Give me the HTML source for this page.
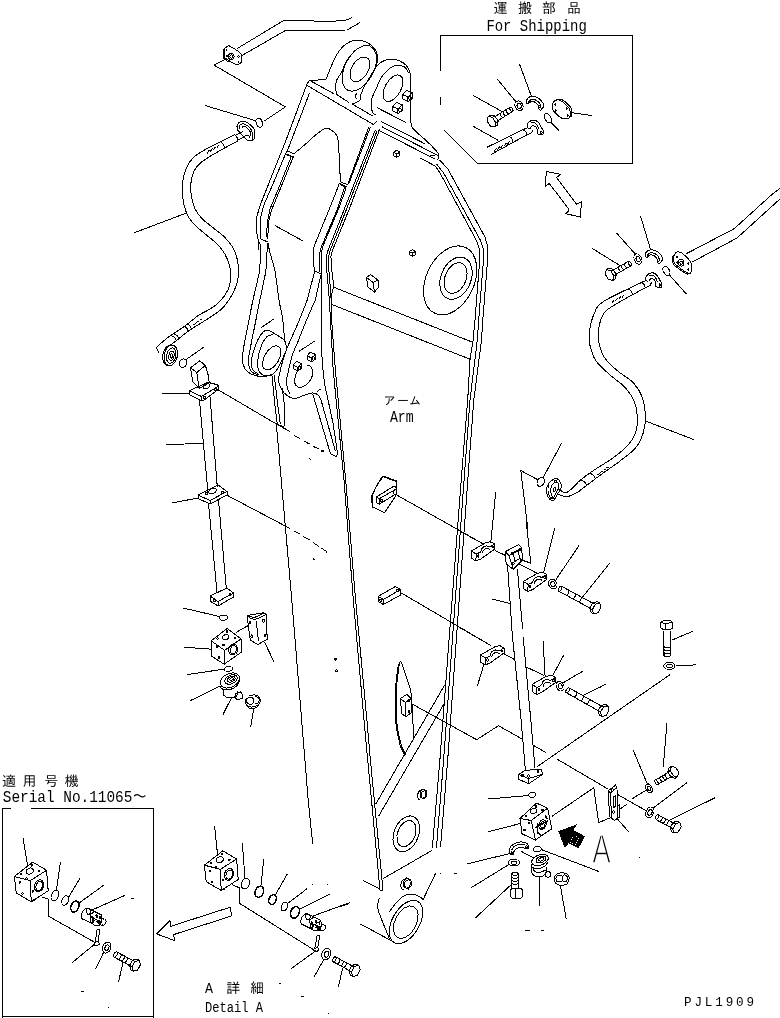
<!DOCTYPE html>
<html><head><meta charset="utf-8"><title>Arm</title>
<style>
html,body{margin:0;padding:0;background:#fff;}
svg{display:block;filter:grayscale(1)}
svg path,svg ellipse,svg rect,svg circle{fill:none;stroke:#000;stroke-width:1}
svg text{font-family:"Liberation Mono","IPAGothic","Noto Sans CJK JP",monospace;fill:#000;stroke:none}
</style></head><body>
<svg width="780" height="1018" viewBox="0 0 780 1018" shape-rendering="crispEdges">
<text x="493.5 518 542 567" y="13.2" font-size="14">運搬部品</text>
<text x="486.4" y="30.5" font-size="16.5" textLength="100.4" lengthAdjust="spacingAndGlyphs">For Shipping</text>
<path d="M440.5 70.5 L440.5 35.5 L632.5 35.5 L632.5 163.5 L477.4 163.5 L444 130"/>
<path d="M440.5 97 L440.5 105"/>
<text x="383.5 397 409" y="405.3" font-size="12">アーム</text>
<text x="389.9" y="422" font-size="16.5" textLength="23.7" lengthAdjust="spacingAndGlyphs">Arm</text>
<text x="2 22.5 44.3 64.8" y="785.8" font-size="14">適用号機</text>
<text x="2.8" y="802.3" font-size="16.5" textLength="144" lengthAdjust="spacingAndGlyphs">Serial No.11065～</text>
<path d="M11 808.5 L2.5 808.5 L2.5 1018"/>
<path d="M30.5 808.5 L153.5 808.5 L153.5 1018"/>
<text y="993.4"><tspan x="205.1" font-size="15.5" textLength="8" lengthAdjust="spacingAndGlyphs">A</tspan> <tspan x="226.3 250" font-size="14">詳細</tspan></text>
<text x="205.1" y="1011.7" font-size="15.5" textLength="58" lengthAdjust="spacingAndGlyphs">Detail A</text>
<text x="684" y="1006" font-size="12.6" textLength="70" lengthAdjust="spacing">PJL1909</text>
<text x="592.3" y="862.9" font-size="41.5" textLength="18.6" lengthAdjust="spacingAndGlyphs" style="font-family:'Liberation Sans',sans-serif;stroke:#fff;stroke-width:1.7">A</text>
<path d="M278.5 983.5 L281.3 983.5"/>
<path d="M301 996.5 L304 996.5"/>
<path d="M328.4 1013.5 L329.4 1013.5"/>
<path d="M439.7 160 L448 169.2 L484.9 236.9 L488 247.2 L487.3 263.6 L482.8 320 L481.5 340 L473.8 400 L468.5 470 L447.7 760 L440.5 847.2"/>
<path d="M436.7 164.1 L443.8 173.3 L480.8 241 L483.8 250.3 L483.2 263.6 L478.7 320 L477.3 340 L470 400 L464.8 470 L443.6 760 L436.4 848.2"/>
<path d="M420.3 158 L435.6 166.2 L440.8 174.4 L476.7 241 L479.7 250.3 L479.1 267.7 L475 320 L473.1 340 L470 360 L467.7 400 L462 470 L439.9 760 L432.3 848.2"/>
<path d="M309.5 80.3 C311.2 80.2 317.3 80.1 320 79.9 C322.7 79.7 324.8 79.2 325.8 79"/>
<path d="M325.8 79 C326 78.5 325.8 79.6 327.2 76.3 C328.6 73 332.3 63.5 334.4 59.2 C336.5 54.9 337.8 52.8 339.7 50.3 C341.6 47.8 343.6 45.6 346 44 C348.4 42.4 351.4 40.9 354.1 40.4 C356.8 39.9 359.5 40.1 362.2 40.8 C364.9 41.5 368.1 42.8 370.3 44.4 C372.6 46 374.5 48.3 375.7 50.3 C376.9 52.3 377.2 54.6 377.5 56.5 C377.8 58.4 377.6 60.1 377.3 61.9 C377 63.7 376 66.4 375.7 67.3"/>
<path d="M336.2 94.2 C336.2 92.1 335.2 85.6 336.2 81.7 C337.2 77.8 340.9 73.9 342.4 70.9 C343.9 67.9 343.8 66.2 345.1 63.7 C346.5 61.2 348.4 58.1 350.5 55.6 C352.6 53.1 355 50.2 357.7 48.5 C360.4 46.8 364.3 45.4 366.7 45.3 C369.1 45.1 370.6 46.3 372.1 47.6 C373.6 48.9 374.9 50.9 375.7 53 C376.5 55.1 377 57.7 377 60.1 C377 62.5 375.9 66.1 375.7 67.3"/>
<path d="M376.2 54 C376.2 55.3 376.7 58.9 376.4 61.6 C376.1 64.2 375.3 67.2 374.3 70 C373.2 72.8 371.7 75.7 370.1 78.2 C368.5 80.7 366.5 83.1 364.5 85 C362.5 86.9 360.3 88.5 358.2 89.5 C356.1 90.6 353.9 91.2 352 91.2 C350.2 91.2 348.3 90.7 346.9 89.7 C345.5 88.7 344.3 87.1 343.5 85.3 C342.7 83.4 342.2 81 342.2 78.6 C342.2 76.1 342.5 73.2 343.3 70.4 C344 67.6 345.1 64.6 346.5 62 C347.9 59.3 350.7 55.6 351.5 54.4"/>
<ellipse cx="359.9" cy="69.3" rx="8.2" ry="13.5" transform="rotate(31 359.9 69.3)"/>
<path d="M375.7 67.3 C374.9 68.8 372.4 73 370.6 76 C368.8 79 366.6 82 364.9 85.3 C363.2 88.6 361.3 93.5 360.4 96 C359.5 98.5 360.9 99.2 359.5 100.5 C358.1 101.8 353.5 103.5 352.3 104.1"/>
<path d="M356.4 93.3 C356.2 93.9 355.4 96.1 355.5 97 C355.6 97.9 356.6 98.4 356.8 98.7"/>
<path d="M336.2 94.2 L348.7 102.3"/>
<path d="M375.7 67.5 C376.6 66.7 378.8 63.7 380.8 62.4 C382.8 61.1 385.2 60.1 387.6 59.6 C390.1 59.1 392.9 59 395.5 59.6 C398.1 60.2 401.2 61.5 403.4 63 C405.6 64.5 407.3 66.4 408.5 68.6 C409.7 70.8 410.4 74.8 410.8 76"/>
<path d="M410.8 76 C410.8 83.3 410.3 111.2 410.8 120 C411.3 128.8 411.1 125.7 413.6 129.1 C416.1 132.5 422.4 137 426 140.4 C429.6 143.8 432.8 147 435 149.4 C437.2 151.8 438.6 153.2 439 155 C439.4 156.8 437.6 159.3 437.3 160.2"/>
<path d="M408.5 72.6 C407.8 71.7 406.3 68.2 404.5 67 C402.7 65.8 400.1 65.2 397.8 65.3 C395.6 65.4 393.3 66.1 391 67.5 C388.7 68.9 386.1 71.5 384.2 73.7 C382.3 75.9 381 78 379.7 80.5 C378.4 83 377.6 85.4 376.3 88.4 C375 91.4 372.7 95.6 371.8 98.6 C370.9 101.6 371 104.2 371.2 106.5 C371.4 108.8 372.1 111.3 372.9 112.7 C373.6 114.1 375.2 114.6 375.7 115"/>
<ellipse cx="393" cy="88.2" rx="7.9" ry="14.5" transform="rotate(29.5 393 88.2)"/>
<path d="M376.9 107.6 L405.7 122.3"/>
<path d="M402.5 94.5 L406.5 90.2 L412.5 93 L412.5 98.2 L408 101.8 L402.5 98.5 Z"/>
<path d="M402.5 94.5 L407.8 97 L412.5 93"/>
<path d="M407.8 97 L408 101.8"/>
<ellipse cx="410" cy="97.8" rx="1.2" ry="2"/>
<path d="M392.5 106.5 L396.5 102.2 L402.5 105 L402.5 110.2 L398 113.8 L392.5 110.5 Z"/>
<path d="M392.5 106.5 L397.8 109 L402.5 105"/>
<path d="M397.8 109 L398 113.8"/>
<ellipse cx="400" cy="109.8" rx="1.2" ry="2"/>
<path d="M309.5 80.3 L333.9 93.8"/>
<path d="M352.3 104.1 L372.9 116.1"/>
<path d="M306.4 85 L373.5 124.6"/>
<path d="M309.5 80.3 L306.4 85"/>
<path d="M380.8 121.2 L424.9 143.8"/>
<path d="M382 126.8 L433.9 153.4 L438.4 155.6"/>
<path d="M378.6 130.2 L435 159"/>
<path d="M429.4 156.2 L434.5 155"/>
<path d="M306.7 84.8 L286.1 140 L260.7 203.8 L256.4 217.8 L256.7 231.9 L258.5 241.6 L259 250"/>
<path d="M309.7 92.6 L287.4 150.8 L285.5 154"/>
<path d="M285.5 154 L273.3 183.2 L263.9 204.9 L260.1 220 L260.1 238.4 L260.7 238.9"/>
<path d="M291 157.3 L280.7 183.2 L269.9 209.2 L267.2 223.2 L266.6 237.3"/>
<path d="M293.1 157.3 L282.6 183.2 L271.5 210.3 L268.2 223.2 L267.9 239.5"/>
<path d="M285.5 154 L293.6 157.3" style="stroke-width:1.6"/>
<path d="M287.4 150.8 L293.6 154"/>
<path d="M260.7 238.9 L268.2 242.2"/>
<path d="M293.6 154 C295.5 152.4 301.3 147.8 305 144.6 C308.7 141.4 312.4 137.6 315.8 134.9 C319.2 132.2 322.8 129.1 325.5 128.4 C328.2 127.7 330 129.1 332 130.5 C334 131.9 336.2 133.2 337.4 137 C338.6 140.8 338.6 146.9 339 153.2 C339.4 159.5 339.8 170 340.1 174.9 C340.4 179.8 340.6 181.2 340.7 182.4"/>
<path d="M339.4 183.5 L346.6 187.3" style="stroke-width:1.6"/>
<path d="M340.7 182.2 L347.7 184.6"/>
<path d="M368.8 126.8 L347.7 184.6"/>
<path d="M370.3 127.3 L348.6 184.2"/>
<path d="M339 184.6 L328.9 210 L314.3 245.7 L313.2 251 L313.2 263 L314.9 270.5"/>
<path d="M344.5 187.3 L337 210 L321.4 246.8 L319.7 253.2 L319.4 271.6"/>
<path d="M346.3 187.6 L338.1 210 L322.4 247.3 L321.6 253.2 L321.6 272.7"/>
<path d="M314.6 271.1 L322.4 274.6"/>
<path d="M375.3 130 L344 210 L327.8 251 L326.2 256.5 L326.8 270.5 L328.9 294.3 L329.5 304 L330.5 320"/>
<path d="M377.2 130.5 L346.2 210 L329.5 252.2 L328.4 257.6 L328.9 270.5 L330.9 294.3 L331.6 320"/>
<path d="M379.6 129.5 L348.9 210 L332.2 251 L330.9 256.5 L331.6 268.4 L333.8 286.5 L331.5 294.5 L331.2 304"/>
<path d="M373.5 124.6 L377.4 120.6"/>
<path d="M333.8 287.3 L473 342.4"/>
<path d="M332.2 304.6 L470 359.2"/>
<ellipse cx="450.2" cy="280.4" rx="24" ry="36.3" transform="rotate(25 450.2 280.4)"/>
<ellipse cx="456" cy="278.2" rx="15" ry="22" transform="rotate(22 456 278.2)"/>
<ellipse cx="455.6" cy="278" rx="10.5" ry="16" transform="rotate(22 455.6 278)"/>
<path d="M393.5 152.2 L396.7 150.3 L399.9 152.2 L399.9 155.7 L396.7 157.3 L393.5 155.7 Z"/>
<path d="M393.5 152.2 L396.7 154 L399.9 152.2"/>
<path d="M396.7 154 L396.7 157.3"/>
<path d="M409.3 251.5 L412.3 249.7 L415.3 251.5 L415.3 254.8 L412.3 256.3 L409.3 254.8 Z"/>
<path d="M409.3 251.5 L412.3 253.2 L415.3 251.5"/>
<path d="M412.3 253.2 L412.3 256.3"/>
<path d="M366.5 277.5 L370.5 274.5 L378 280 L378 288 L374.5 292 L368 287 Z"/>
<path d="M366.5 277.5 L373 282.5 L378 280"/>
<path d="M373 282.5 L374.5 292"/>
<path d="M258.5 241.6 L260.8 245 L259.7 271.3"/>
<path d="M259.7 271.3 C258.6 276.1 254.7 292.3 253 300 C251.3 307.7 250.8 310.6 249.5 317.3 C248.2 324 246.1 334 244.9 340.4 C243.8 346.8 242.9 351.4 242.6 355.4 C242.3 359.4 242.4 361.9 243.2 364.6 C244 367.3 245.2 369.7 247.2 371.5 C249.2 373.3 252.2 374.8 255.3 375.6 C258.4 376.4 262.8 376.5 265.7 376.2 C268.6 375.9 271.5 374.2 272.6 373.8"/>
<path d="M267.5 243 L265.9 271.3"/>
<path d="M265.9 271.3 C264.9 276.1 261.7 291.4 259.9 300 C258.1 308.6 256.8 315.4 255.3 323.1 C253.8 330.8 251.8 340.1 250.7 346.2 C249.5 352.3 248.6 356.4 248.4 360 C248.2 363.6 248.7 366 249.5 368.1 C250.3 370.2 251.4 371.6 253 372.7 C254.6 373.8 257.8 374.6 258.8 375"/>
<path d="M268.2 242.7 C268.4 243.9 268.2 245.2 269.3 250 C270.4 254.8 273.4 263 275 271.3 C276.6 279.6 277.8 292.3 279 300 C280.2 307.7 281.5 311.5 282.4 317.3 C283.3 323.1 283.7 330.2 284.2 334.6 C284.7 339 285.1 342.3 285.3 343.8"/>
<path d="M268.6 330.2 C267.7 330.4 265.2 330 263.4 331.7 C261.6 333.4 259.4 336.4 257.6 340.4 C255.8 344.3 253.5 351.4 252.4 355.4 C251.3 359.4 251.2 362.1 251.3 364.6 C251.4 367.1 251.8 368.9 253 370.4 C254.2 371.9 257.3 373.2 258.2 373.8"/>
<path d="M268.6 330.2 C269.9 330.9 273.5 332.9 276.1 334.6 C278.7 336.3 282.4 338.1 284.2 340.4 C286 342.7 286.5 347.1 287 348.5"/>
<path d="M272.6 334.6 C271.6 335 268.5 335.4 266.8 336.9 C265.1 338.4 263.5 340.9 262.2 343.8 C260.9 346.7 259.6 350.7 258.8 354.2 C258 357.7 257.5 361.7 257.6 364.6 C257.7 367.5 258.3 369.8 259.3 371.5 C260.3 373.2 261.4 374.4 263.4 375 C265.4 375.6 269.2 376 271.5 375 C273.8 374 275.3 372.1 277.2 369.2 C279.1 366.3 281.4 361 283 357.7 C284.6 354.4 285.9 351 286.5 349.6"/>
<ellipse cx="271.7" cy="357.9" rx="7.3" ry="13.2" transform="rotate(30 271.7 357.9)"/>
<path d="M261.1 327.7 L273.8 319"/>
<path d="M272 376.2 L274.9 405 L277.4 424.6"/>
<path d="M274.2 375.5 L277.8 405 L280.3 424"/>
<path d="M282.2 388 L284.4 405 L284.2 425.6"/>
<path d="M277.4 424.6 L284.2 426.6"/>
<path d="M314.6 271.6 L307.2 300"/>
<path d="M307.2 300 C305.7 303.9 300.9 316.2 298 323.1 C295.1 330 291.8 337.1 289.9 341.5 C288 345.9 287.6 346.5 286.5 349.6 C285.4 352.7 284.2 356 283 360 C281.8 364 280.3 370.3 279.5 373.8 C278.7 377.3 278 378.1 278.4 380.8 C278.8 383.5 280.3 387.5 281.8 390 C283.3 392.5 285.5 394.4 287.6 395.8 C289.7 397.2 292 398.7 294.5 398.7 C297 398.7 299.5 396.8 302.6 395.8 C305.7 394.8 310.3 392.9 313 392.9 C315.7 392.9 317.4 394.4 318.8 395.8 C320.2 397.2 321 400.5 321.4 401.4"/>
<path d="M320.8 275.4 L315.3 300"/>
<path d="M315.3 300 C313.9 303.1 310.1 311.6 307.2 318.5 C304.3 325.4 300.5 335.4 298 341.5 C295.5 347.6 293.7 350.8 292.2 355.4 C290.7 360 289.8 365 288.8 369.2 C287.9 373.4 286.7 377.5 286.5 380.8 C286.3 384.1 287 386.7 287.6 388.8 C288.2 390.9 289.5 392.7 289.9 393.5"/>
<path d="M306.5 365 C307 365.1 308.6 364.8 309.5 365.5 C310.4 366.2 311.5 367.4 312 369 C312.5 370.6 312.9 372.9 312.5 375 C312.1 377.1 310.9 379.6 309.5 381.5 C308.1 383.4 305.7 385.4 303.8 386.3 C301.9 387.2 299.5 387.6 298 387 C296.5 386.4 295.3 384.8 294.8 383 C294.3 381.2 294.7 378.6 295.2 376.5 C295.7 374.4 297.5 371.5 298 370.5"/>
<path d="M293.1 365 L296.5 361.4 L301.7 363.7 L301.7 368.2 L297.8 371.2 L293.1 368.4 Z"/>
<path d="M293.1 365 L297.6 367.2 L301.7 363.7"/>
<path d="M297.6 367.2 L297.8 371.2"/>
<ellipse cx="299.5" cy="367.8" rx="1.1" ry="1.7"/>
<path d="M307 355.8 L310.4 352.2 L315.6 354.5 L315.6 359 L311.7 362 L307 359.2 Z"/>
<path d="M307 355.8 L311.5 358 L315.6 354.5"/>
<path d="M311.5 358 L311.7 362"/>
<ellipse cx="313.4" cy="358.6" rx="1.1" ry="1.7"/>
<path d="M299.2 351.3 L314.7 341"/>
<path d="M317 391.7 L320.5 389.1"/>
<path d="M312.7 393.8 L330 452.2 L331.1 454.3 L336 456.5 L338.1 453.8"/>
<path d="M321.4 401.4 L335.4 451.1"/>
<path d="M321.6 272.7 L321.6 320 L321.5 350 L323 370 L324.6 384 L333.2 424 L337.6 454.3"/>
<path d="M330.5 320 L333.2 370 L344 480 L353.3 600 L364 720 L367.7 760 L380 890"/>
<path d="M331.6 320 L335.4 370 L345.7 480 L355.6 600 L366.9 720 L370.4 760 L383 890"/>
<path d="M380 890.3 L383 890.3"/>
<path d="M276.4 424.6 L291.8 600 L308.2 800 L312.7 844"/>
<path d="M277.4 424.6 L290 431.5"/>
<path d="M294.3 435.4 L299.7 438.6"/>
<path d="M303.5 440.8 L309.5 444"/>
<path d="M312.7 446.2 L318.6 448.9"/>
<ellipse cx="322.4" cy="451" rx="1.2" ry="1"/>
<path d="M309.5 458.5 L311 460"/>
<path d="M285.6 526.2 L290 528.5"/>
<path d="M294 530.8 L300 534.2"/>
<path d="M303.5 536.5 L309.5 540"/>
<path d="M313 542.5 L319 546.5"/>
<path d="M321.5 548 L325 550.5"/>
<path d="M325.5 550.5 L326.8 552.3"/>
<path d="M313.2 558.5 L314.3 559.8"/>
<path d="M383.1 476.4 L396.5 481.2 L396.5 494.6 L384.6 512.7 L372.3 506.9 L371.5 495.8 L377.7 484.2 Z"/>
<path d="M381.9 477.3 L376.5 485.5 L372.5 495.5 L372.5 506.5"/>
<path d="M376.5 496.9 L393.8 486.2 L396.2 487.3 L396.2 493.8 L379.2 504.2 L376.5 502.7 Z"/>
<path d="M376.5 496.9 L379.2 498.8 L395.8 489.2"/>
<path d="M379.2 498.8 L379.2 504.2"/>
<ellipse cx="381.5" cy="500.4" rx="0.9" ry="1.1"/>
<path d="M393.5 490.5 L393.5 493.5" style="stroke-width:1.6"/>
<path d="M383.1 476.4 L396.5 481.2" style="stroke-width:1.6"/>
<path d="M378 596.5 L395.5 586.5 L400.5 589.5 L400.5 595 L383.5 604.5 L378 601.5 Z"/>
<path d="M378 596.5 L383.5 599.5 L400.5 589.5"/>
<path d="M383.5 599.5 L383.5 604.5"/>
<ellipse cx="380.7" cy="600.2" rx="0.9" ry="1.2"/>
<ellipse cx="397.5" cy="590.7" rx="0.9" ry="1.2"/>
<ellipse cx="335.5" cy="659" rx="1.2" ry="1"/>
<ellipse cx="336.5" cy="670.8" rx="1.2" ry="1"/>
<path d="M399.5 662.6 C398.9 667.5 396.6 682.2 396.2 692.3 C395.8 702.4 396.1 714.5 396.9 723 C397.7 731.5 399.4 738.3 400.8 743.6 C402.2 748.9 404.8 753 405.6 754.9"/>
<path d="M398.5 663.6 C397.9 668.4 395.6 682.4 395.2 692.3 C394.8 702.2 395.1 714.3 395.9 723 C396.7 731.7 398.5 739.2 400 744.6 C401.5 750 404 753.7 404.8 755.5"/>
<path d="M399.5 662.6 C399.7 662.4 400.1 661.3 400.5 661.3 C400.9 661.3 401.4 662.4 401.6 662.6"/>
<path d="M401.6 662.6 L410.8 690.3 L412.8 714.9 L413.4 739.5"/>
<path d="M400.5 698.5 L406.7 694.4 L411.4 698.5 L411.4 712.8 L406 716.5 L401.5 713.8 Z"/>
<path d="M400.5 698.5 L405.3 702.5 L411.4 698.5"/>
<path d="M405.3 702.5 L406 716.5"/>
<ellipse cx="409" cy="700.5" rx="0.9" ry="1.2"/>
<ellipse cx="409" cy="711.5" rx="0.9" ry="1.2"/>
<path d="M444.5 685.3 L375.9 803.8"/>
<path d="M444 703.9 L378.6 816.1"/>
<path d="M432.3 850.3 L383 878.6"/>
<ellipse cx="406.3" cy="833.8" rx="12.2" ry="18.6" transform="rotate(22 406.3 833.8)"/>
<ellipse cx="406.5" cy="833.6" rx="8.8" ry="13.6" transform="rotate(22 406.5 833.6)"/>
<path d="M426.9 795.8 L424.1 799.1 L420.7 797.3 L420.1 792.2 L422.9 788.9 L426.3 790.7 Z"/>
<ellipse cx="423.5" cy="794.5" rx="2.4" ry="3.8" transform="rotate(15 423.5 794.5)"/>
<path d="M420.1 800.2 C420 800.1 419.5 800 419.2 799.8 C418.9 799.6 418.7 799.3 418.5 799 C418.2 798.7 418.1 798.4 417.9 798 C417.8 797.6 417.7 797.2 417.6 796.8 C417.6 796.3 417.6 795.9 417.6 795.4 C417.6 794.9 417.7 794.5 417.8 794 C418 793.6 418.1 793.1 418.3 792.7 C418.5 792.3 418.8 791.9 419 791.5 C419.3 791.2 419.6 790.9 419.9 790.6 C420.2 790.4 420.5 790.1 420.9 790 C421.2 789.8 421.6 789.7 421.9 789.7 C422.2 789.7 422.7 789.8 422.9 789.8"/>
<path d="M411.6 885.4 L408.3 889 L404.1 887.1 L403.4 881.6 L406.7 878 L410.9 879.9 Z"/>
<ellipse cx="407.5" cy="884" rx="3" ry="4.2" transform="rotate(15 407.5 884)"/>
<path d="M404 890.1 C403.8 890 403.2 889.8 402.9 889.6 C402.6 889.4 402.2 889.1 402 888.8 C401.7 888.4 401.5 888 401.3 887.6 C401.1 887.2 401 886.7 400.9 886.3 C400.8 885.8 400.8 885.3 400.8 884.8 C400.8 884.3 400.9 883.8 401.1 883.3 C401.2 882.8 401.4 882.3 401.6 881.9 C401.8 881.5 402.1 881 402.4 880.7 C402.7 880.3 403.1 880 403.4 879.7 C403.8 879.4 404.2 879.2 404.6 879.1 C405 878.9 405.4 878.8 405.8 878.8 C406.2 878.8 406.8 878.9 407 878.9"/>
<ellipse cx="406" cy="922" rx="13.6" ry="23.7" transform="rotate(30 406 922)"/>
<ellipse cx="405.7" cy="922.2" rx="10.6" ry="17.5" transform="rotate(27.5 405.7 922.2)"/>
<path d="M388.7 912.5 C390.1 910.7 394.5 904.4 397.3 901.5 C400.1 898.6 402.5 896.4 405.4 895.2 C408.3 894 411.9 893.9 414.6 894.4 C417.3 894.9 420.1 897.1 421.5 898.1 C422.9 899.1 422.5 900 422.7 900.4"/>
<path d="M435.6 873.3 L422.7 900.4"/>
<path d="M379.4 898.1 C379.1 899.5 377.4 903.3 377.5 906.2 C377.6 909.1 377.9 909.8 380 915.4 C382.1 921 388.2 935.6 389.8 939.6"/>
<path d="M440 873.5 L441 873.5"/>
<path d="M453.8 873.5 L457 873.5"/>
<path d="M224.4 48.5 L228.5 45.4 L237.2 50.5 L241.8 54.9 L241.3 62.6 L237.2 65.1 L229 60.8 L224.4 57.4 Z"/>
<path d="M224.4 48.5 L223.4 49.5 L223.4 58.2 L228.2 61.8 L229 60.8"/>
<ellipse cx="231.3" cy="56.5" rx="2.8" ry="3.2"/>
<ellipse cx="231.3" cy="56.5" rx="1.4" ry="1.7"/>
<ellipse cx="226.5" cy="50" rx="0.6" ry="0.6"/>
<ellipse cx="238.5" cy="56.5" rx="0.6" ry="0.6"/>
<ellipse cx="238.5" cy="62" rx="0.6" ry="0.6"/>
<ellipse cx="226.8" cy="56" rx="0.6" ry="0.6"/>
<path d="M237.2 48.5 L284.1 20.3 L313.6 20.8"/>
<path d="M314.5 21.5 L344.4 20.8 L352 17.7"/>
<path d="M241.8 55.6 L285.4 30.5 L347 30 L359.7 22.8"/>
<path d="M224.4 60 L214.1 65.1 L285.4 106.9 L263.6 121.5"/>
<path d="M204.6 105.4 L255.9 120.8"/>
<ellipse cx="259.3" cy="122.8" rx="3" ry="4.6" transform="rotate(-20 259.3 122.8)"/>
<path d="M220.5 141.8 C218.1 143 210.6 146.4 206.2 149 C201.8 151.6 197.1 154.1 193.8 157.2 C190.6 160.3 188.6 163.3 186.7 167.4 C184.8 171.5 183.3 177 182.6 181.8 C181.9 186.6 182.1 191.4 182.6 196.2 C183.1 201 184.1 206.2 185.6 210.5 C187.1 214.8 188.7 218 191.8 221.8 C194.9 225.6 200 229.5 204.1 233.1 C208.2 236.7 213 239.9 216.4 243.3 C219.8 246.7 222.4 249.8 224.6 253.6 C226.8 257.4 228.7 261.8 229.7 265.9 C230.7 270 231.1 274.1 230.8 278.2 C230.5 282.3 229.8 286.4 227.7 290.5 C225.6 294.6 221.8 299.6 218.5 302.8 C215.2 306.1 211.5 307.9 208.2 310 C204.9 312.1 202.4 312.7 198.5 315.4 C194.6 318.1 189.2 322.9 184.6 326.2 C180 329.5 175.2 332.2 170.8 335.4 C166.5 338.6 160.8 343.2 158.5 345.4 C156.2 347.6 156.8 347.2 156.9 348.5 C157 349.8 158.8 352.2 159.2 353"/>
<path d="M224.6 148 C222.2 149.4 214.4 153.6 210.3 156.2 C206.2 158.8 202.8 160.8 200 163.3 C197.2 165.9 195.3 168.1 193.8 171.5 C192.3 174.9 191.2 179.7 190.8 183.8 C190.4 187.9 190.7 192.1 191.4 196.2 C192.1 200.3 193.1 204.8 194.9 208.5 C196.7 212.2 199 215.5 202.1 218.7 C205.2 221.9 209.6 224.8 213.3 227.9 C217.1 231 221.3 233.9 224.6 237.2 C227.8 240.4 230.7 243.7 232.8 247.4 C234.9 251.2 236.3 255.2 237.3 259.7 C238.3 264.1 238.8 269.7 238.6 274.1 C238.4 278.6 237.4 282.3 235.9 286.4 C234.4 290.5 232.3 294.8 229.7 298.7 C227.1 302.6 224.7 306.3 220.5 310 C216.3 313.7 210.1 317.2 204.6 320.8 C199.1 324.4 192.4 328.2 187.7 331.5 C183 334.8 179.8 338.1 176.2 340.8 C172.6 343.5 167.9 346.6 166.2 347.7"/>
<path d="M134.4 232.7 L186 213.2"/>
<path d="M220.5 141.8 C221 142.2 222.8 143.5 223.5 144.5 C224.2 145.5 224.4 147.4 224.6 148"/>
<path d="M220.5 141.8 L234.9 134.6"/>
<path d="M224.6 148 L238 140.8"/>
<path d="M234.9 134.6 C235.2 135.1 236.5 136.5 237 137.5 C237.5 138.5 237.8 140.2 238 140.8"/>
<path d="M234.9 135.6 L243 131.5"/>
<path d="M237.3 140.4 L245.1 136.3"/>
<path d="M207 153.5 L209.2 150.1"/>
<path d="M210.2 151.8 L212.4 148.4"/>
<path d="M213.4 150.1 L215.6 146.7"/>
<path d="M216.6 148.4 L218.8 145"/>
<path d="M237.4 124.6 C238 123.3 239.7 122 241 121.5 C242.3 121 243.4 120.8 245.1 121.5 C246.8 122.2 249.8 124.2 251.3 125.6 C252.9 127 253.9 127.9 254.4 130 C254.9 132.1 254.8 136.2 254.4 138 C254 139.8 252.8 140.1 251.8 140.5 C250.8 140.9 249.4 140.9 248.2 140.5 C247 140.1 245.9 139.1 244.5 137.8 C243.1 136.5 241.2 133.9 240 132.5 C238.8 131.1 237.8 130.8 237.4 129.5 C237 128.2 236.8 125.9 237.4 124.6 Z"/>
<path d="M239.3 128.5 C239.3 128 238.9 126.4 239.5 125.6 C240.1 124.8 241.8 123.8 243.1 123.8 C244.4 123.8 245.8 124.6 247.2 125.6 C248.6 126.6 250.5 128.3 251.3 129.7 C252.2 131.1 252.1 133.1 252.3 133.8"/>
<path d="M241.5 128.5 C241.8 128.1 242.7 126.5 243.5 126.3 C244.3 126.1 245.5 126.7 246.5 127.5 C247.5 128.3 248.8 129.8 249.5 131 C250.2 132.2 250.6 133.3 250.5 134.5 C250.4 135.7 249.2 137.4 249 138"/>
<path d="M244.5 136.5 C244.9 136.3 246.2 135.4 247 135.3 C247.8 135.2 249.1 136 249.5 136.2"/>
<path d="M250 131.5 L251 133.5" style="stroke-width:1.6"/>
<path d="M252.3 134 L252.3 139.5"/>
<path d="M184.6 326.2 C185 326.6 186.5 327.6 187 328.5 C187.5 329.4 187.6 331 187.7 331.5"/>
<path d="M188 324 C188.4 324.4 190 325.6 190.5 326.5 C191 327.4 191.1 329 191.2 329.5"/>
<path d="M170.8 335.4 C171.4 335.8 173.6 336.6 174.5 337.5 C175.4 338.4 175.9 340.2 176.2 340.8"/>
<path d="M173.5 333.5 C174.1 333.9 176.3 334.9 177.2 335.8 C178.1 336.7 178.5 338.5 178.8 339"/>
<path d="M193 324.5 L195.6 323.9"/>
<path d="M196.4 322.2 L199 321.6"/>
<path d="M199.8 319.9 L202.4 319.3"/>
<ellipse cx="170.8" cy="355.4" rx="6.6" ry="10.5" transform="rotate(12 170.8 355.4)"/>
<ellipse cx="171.2" cy="355.6" rx="4.6" ry="7.8" transform="rotate(12 171.2 355.6)"/>
<ellipse cx="171.4" cy="355.8" rx="2.6" ry="4.6" transform="rotate(12 171.4 355.8)"/>
<ellipse cx="171.4" cy="356" rx="1.2" ry="2.2" transform="rotate(12 171.4 356)"/>
<path d="M168.6 365.6 C168.3 365.5 167.3 365.5 166.7 365.2 C166.1 365 165.5 364.6 165 364.1 C164.6 363.6 164.1 362.9 163.8 362.2 C163.4 361.5 163.2 360.6 163 359.7 C162.8 358.8 162.8 357.8 162.8 356.8 C162.8 355.9 162.9 354.8 163.1 353.8 C163.4 352.8 163.7 351.8 164 350.9 C164.4 350 164.9 349.2 165.4 348.4 C165.9 347.7 166.5 347 167.1 346.5 C167.7 345.9 168.4 345.5 169 345.2 C169.7 345 170.4 344.8 171 344.8 C171.7 344.9 172.6 345.2 172.9 345.3"/>
<ellipse cx="183" cy="363.2" rx="3.6" ry="4.4" transform="rotate(30 183 363.2)"/>
<path d="M185.4 360 L203.8 347.2"/>
<path d="M190.5 367.7 L199.7 360.8 L205.4 365.4 L208.5 376.2 L209.2 383 L199.2 388.5 L193 382.3 Z"/>
<path d="M190.5 367.7 L196.8 372.6 L205.4 365.4"/>
<path d="M196.8 372.6 L199.2 388.5"/>
<path d="M189.2 390.8 L207.7 382.3 L216.9 384.6 L218.5 386.2 L218.5 389.2 L203 400.8 L201.5 400.8 L189.2 394.6 Z"/>
<path d="M189.2 390.8 L201.5 396.5 L218.5 386.2"/>
<path d="M201.5 396.5 L201.5 400.8"/>
<ellipse cx="204.5" cy="397.3" rx="0.8" ry="1.2"/>
<ellipse cx="215.5" cy="389.5" rx="0.8" ry="1.2"/>
<path d="M209.8 384.8 C209.8 385 209.9 385.6 209.8 386 C209.7 386.4 209.3 386.9 208.9 387.3 C208.5 387.7 208 388 207.4 388.3 C206.9 388.5 206.2 388.7 205.7 388.8 C205.1 388.8 204.5 388.8 204.1 388.6 C203.7 388.5 203.4 388.2 203.2 387.8 C203.1 387.5 203.1 387 203.2 386.6 C203.3 386.2 203.7 385.7 204.1 385.3 C204.5 384.9 205 384.6 205.6 384.3 C206.1 384.1 206.8 383.9 207.3 383.8 C207.9 383.8 208.5 383.8 208.9 384 C209.3 384.1 209.6 384.6 209.8 384.8"/>
<path d="M162.3 393.4 L189.2 393.4"/>
<path d="M218.5 390 L277.4 424.6"/>
<path d="M199.5 400.5 L208 493"/>
<path d="M210 396.5 L217.3 487"/>
<path d="M166 445 L203.5 443"/>
<path d="M198 495 L218 485 L227 491.5 L227 495 L210 504 L198 498.5 Z"/>
<path d="M198 495 L210 500.5 L227 491.5"/>
<path d="M210 500.5 L210 504"/>
<ellipse cx="206.5" cy="493.8" rx="1" ry="1.2"/>
<ellipse cx="222.5" cy="492.5" rx="0.8" ry="1.1"/>
<path d="M216.3 489.2 C216.3 489.5 216.5 490.2 216.3 490.6 C216.2 491.1 215.8 491.7 215.4 492.2 C214.9 492.6 214.2 493.1 213.6 493.4 C213 493.7 212.2 493.9 211.5 493.9 C210.9 494 210.2 493.9 209.8 493.7 C209.3 493.5 208.9 493.2 208.7 492.8 C208.5 492.4 208.5 491.8 208.7 491.4 C208.8 490.9 209.2 490.3 209.6 489.8 C210.1 489.4 210.8 488.9 211.4 488.6 C212 488.3 212.8 488.1 213.5 488.1 C214.1 488 214.8 488.1 215.2 488.3 C215.7 488.5 216.1 489.1 216.3 489.2"/>
<path d="M172 503 L198 498"/>
<path d="M226.5 495 L285.6 526.2"/>
<path d="M208.5 503.5 L217 592"/>
<path d="M218.5 500 L226.3 588.5"/>
<path d="M210 596 L227 588 L233.5 593 L233.5 597 L218 606 L210 601 Z"/>
<path d="M210 596 L218 601.5 L233.5 593"/>
<path d="M218 601.5 L218 606"/>
<ellipse cx="214.5" cy="600.5" rx="0.8" ry="1.1"/>
<ellipse cx="230" cy="594.5" rx="0.8" ry="1.1"/>
<path d="M183 608 L219.5 616.5"/>
<ellipse cx="223.5" cy="617.7" rx="4.4" ry="2.7" transform="rotate(-8 223.5 617.7)"/>
<path d="M211.2 640.8 L227.2 628.5 L241.1 638.9 L241.1 652.3 L224.2 664.2 L211.5 656.2 Z"/>
<path d="M211.2 640.8 L224.6 650.3 L241.1 638.9"/>
<path d="M224.6 650.3 L224.2 664.2"/>
<ellipse cx="225.6" cy="637.2" rx="3.4" ry="2.5" transform="rotate(-20 225.6 637.2)"/>
<ellipse cx="233" cy="649.4" rx="4.3" ry="5.6" transform="rotate(15 233 649.4)"/>
<ellipse cx="233.3" cy="649.6" rx="3" ry="4.2" transform="rotate(15 233.3 649.6)"/>
<ellipse cx="217.5" cy="638.5" rx="0.7" ry="0.7"/>
<ellipse cx="227" cy="631.5" rx="0.7" ry="0.7"/>
<ellipse cx="235" cy="638" rx="0.7" ry="0.7"/>
<ellipse cx="223.5" cy="645" rx="0.7" ry="0.7"/>
<ellipse cx="217" cy="646.5" rx="0.7" ry="0.7"/>
<ellipse cx="219" cy="657.5" rx="0.7" ry="0.7"/>
<path d="M183.8 647.2 L211.2 649.2"/>
<path d="M236.2 632.3 L248.5 625.4"/>
<path d="M247.7 615.4 L263.8 612.8 L266.2 614.3 L267.2 639.2 L257.7 644.6 L250.3 640 L247.7 620.8 Z"/>
<path d="M247.7 615.4 C248.2 615.9 249.4 617.9 251 618.5 C252.6 619.1 254.9 619.3 257 618.8 C259.1 618.3 262.3 616.2 263.8 615.5 C265.3 614.8 265.8 614.5 266.2 614.3"/>
<path d="M249.5 616.2 C250.4 616.4 252.6 617.8 255 617.2 C257.4 616.6 262.3 613.5 263.8 612.8"/>
<path d="M256.2 620.8 L258.5 640.8"/>
<ellipse cx="250" cy="622.3" rx="0.9" ry="1.4"/>
<ellipse cx="251.8" cy="636.2" rx="0.9" ry="1.4"/>
<ellipse cx="263.5" cy="620.8" rx="0.9" ry="1.4"/>
<ellipse cx="265" cy="635.4" rx="0.9" ry="1.4"/>
<path d="M264.6 642.3 L273.8 661.5"/>
<ellipse cx="228.5" cy="669" rx="4.3" ry="2.6" transform="rotate(-8 228.5 669)"/>
<path d="M187 674.6 L223.8 669.2"/>
<ellipse cx="229.8" cy="680.5" rx="10.2" ry="6.8" transform="rotate(-25 229.8 680.5)"/>
<ellipse cx="231" cy="679.5" rx="6.6" ry="4.2" transform="rotate(-25 231 679.5)"/>
<ellipse cx="231.3" cy="679.3" rx="4" ry="2.5" transform="rotate(-25 231.3 679.3)"/>
<ellipse cx="231.5" cy="679.2" rx="1.8" ry="1.2" transform="rotate(-25 231.5 679.2)"/>
<path d="M239.2 679.3 C239.2 679.6 239.3 680.6 239.2 681.2 C239.1 681.8 238.9 682.5 238.5 683.2 C238.2 683.8 237.8 684.5 237.3 685.1 C236.7 685.7 236.1 686.3 235.5 686.8 C234.8 687.3 234 687.8 233.3 688.3 C232.5 688.7 231.7 689 230.8 689.3 C230 689.6 229.1 689.8 228.3 689.9 C227.5 690 226.6 690 225.9 690 C225.1 689.9 224.3 689.8 223.7 689.6 C223 689.3 222.4 689 221.9 688.7 C221.4 688.3 221 687.8 220.6 687.3 C220.3 686.8 220.1 686 220 685.7"/>
<path d="M190 700.8 L220 686.2"/>
<path d="M223.2 690.5 C223.3 691.3 222.9 694.3 224 695.5 C225.1 696.7 228 697.6 230 697.7 C232 697.8 234.9 697.2 236.2 696.2 C237.5 695.2 237.4 692.3 237.7 691.5"/>
<path d="M235.5 693.5 L240.5 691.8 L243 695.3 L242.3 698.3 L237.3 699.8 L235 697.5 Z"/>
<path d="M223 714.6 L231.5 697.7"/>
<ellipse cx="252.8" cy="701" rx="7.6" ry="6" transform="rotate(-15 252.8 701)"/>
<ellipse cx="250.2" cy="700.8" rx="3.6" ry="3.4"/>
<path d="M254.6 696.8 C254.8 696.8 255.3 696.6 255.7 696.6 C256.1 696.6 256.4 696.6 256.8 696.8 C257.1 696.9 257.5 697 257.8 697.3 C258 697.5 258.3 697.7 258.5 698.1 C258.7 698.4 258.9 698.7 259 699.1 C259.1 699.4 259.2 699.8 259.2 700.2 C259.2 700.6 259.1 701 259 701.3 C258.9 701.7 258.7 702 258.5 702.3 C258.3 702.7 258 702.9 257.8 703.1 C257.5 703.4 257.1 703.5 256.8 703.6 C256.4 703.8 256.1 703.8 255.7 703.8 C255.3 703.8 254.8 703.6 254.6 703.6"/>
<path d="M246.5 704.5 C246.9 705.1 247.8 707.5 249 708.2 C250.2 708.9 252.3 709.1 254 708.6 C255.7 708.1 258.2 706 259 705.5"/>
<path d="M250.8 726.6 L253.8 708.5"/>
<path d="M2.5 1016.5 L153.5 1016.5"/>
<path d="M14.4 876.5 L32.8 862.1 L46.6 870.3 L48.2 890.8 L31.2 901.8 L16.2 892.9 Z"/>
<path d="M14.4 876.5 L30.4 880.6 L46.6 870.3"/>
<path d="M30.4 880.6 L31.2 901.8"/>
<ellipse cx="29.7" cy="871.1" rx="3.7" ry="2.8" transform="rotate(-25 29.7 871.1)"/>
<ellipse cx="39" cy="885.7" rx="4.5" ry="6" transform="rotate(20 39 885.7)"/>
<ellipse cx="39.3" cy="885.9" rx="3.2" ry="4.6" transform="rotate(20 39.3 885.9)"/>
<ellipse cx="20.9" cy="874" rx="0.7" ry="0.7"/>
<ellipse cx="31.9" cy="865.5" rx="0.7" ry="0.7"/>
<ellipse cx="39.4" cy="871" rx="0.7" ry="0.7"/>
<ellipse cx="26.4" cy="878.5" rx="0.7" ry="0.7"/>
<ellipse cx="19.9" cy="882.5" rx="0.7" ry="0.7"/>
<ellipse cx="22.4" cy="893.5" rx="0.7" ry="0.7"/>
<ellipse cx="32.9" cy="891.5" rx="0.7" ry="0.7"/>
<ellipse cx="33.9" cy="900" rx="0.7" ry="0.7"/>
<path d="M23 838.1 L27.7 866.2"/>
<ellipse cx="55" cy="895.5" rx="3.5" ry="5.7" transform="rotate(22 55 895.5)"/>
<path d="M60.5 862.1 L56.4 889.8"/>
<ellipse cx="65.2" cy="900.5" rx="3.1" ry="5" transform="rotate(22 65.2 900.5)"/>
<path d="M80.4 877.5 L68.7 897"/>
<ellipse cx="74.9" cy="906.6" rx="3.8" ry="5.7" style="stroke-width:1.6" transform="rotate(22 74.9 906.6)"/>
<path d="M103.6 885.3 L79 903.1"/>
<path d="M85.3 919.7 C85 919.7 84.2 919.8 83.8 919.7 C83.3 919.6 82.9 919.4 82.5 919.1 C82.2 918.7 81.9 918.3 81.7 917.8 C81.5 917.3 81.4 916.7 81.4 916 C81.3 915.4 81.4 914.7 81.6 914.1 C81.8 913.4 82 912.7 82.4 912.1 C82.7 911.5 83.1 910.8 83.6 910.3 C84 909.8 84.6 909.3 85.1 909 C85.6 908.7 86.2 908.4 86.7 908.3 C87.2 908.2 87.8 908.2 88.2 908.3 C88.7 908.4 89.1 908.6 89.5 908.9 C89.8 909.3 90.2 910 90.3 910.2"/>
<path d="M87.6 908 L95 911.7"/>
<path d="M83.4 919.2 L91 923"/>
<path d="M86.5 909.5 C87 909 88.8 909 89.5 909.4 C90.2 909.8 91.2 911.1 91 912 C90.8 912.9 89.2 914.4 88.5 914.5 C87.8 914.6 86.8 913.3 86.5 912.5 C86.2 911.7 86 910 86.5 909.5 Z"/>
<path d="M90.5 914.5 L94.5 911.5 L101.5 915 L102 920 L100.5 925 L94.5 925.3 L90.8 922.3 Z"/>
<path d="M92 916 L93.5 920.5 L92.5 923" style="stroke-width:2"/>
<path d="M96 914.5 L97.5 918" style="stroke-width:2"/>
<path d="M96.5 921 L99.5 922.5 L99 924.5" style="stroke-width:2.2"/>
<path d="M93.5 918.5 L101 921.5"/>
<path d="M99.5 916 L100.5 919" style="stroke-width:1.6"/>
<path d="M101.5 918 L104.5 919.5"/>
<path d="M100.5 925 L103.5 925.5"/>
<path d="M104.7 919.6 C104.8 919.6 105.1 919.6 105.3 919.7 C105.4 919.7 105.6 919.9 105.7 920 C105.8 920.2 105.9 920.4 106 920.6 C106.1 920.9 106.1 921.1 106.1 921.4 C106.1 921.7 106 922 106 922.3 C105.9 922.6 105.8 923 105.6 923.3 C105.5 923.6 105.3 923.9 105.1 924.1 C105 924.4 104.7 924.6 104.5 924.8 C104.3 925 104.1 925.1 103.9 925.2 C103.6 925.3 103.4 925.4 103.2 925.4 C103 925.4 102.8 925.4 102.6 925.3 C102.5 925.2 102.3 924.9 102.2 924.9"/>
<path d="M124.7 895.5 L92.3 909.9"/>
<path d="M131.3 898.5 L134.4 898.5"/>
<path d="M42 897 L48.2 899 L48.2 916 L95.4 942.7"/>
<path d="M97.1 929.5 L95.4 942"/>
<path d="M99.7 929.5 L98.2 942"/>
<path d="M97.1 929.5 L99.7 929.5"/>
<ellipse cx="96.7" cy="943.8" rx="2.6" ry="1.8" transform="rotate(-20 96.7 943.8)"/>
<path d="M72.2 962.6 L95.4 943.5"/>
<ellipse cx="106.7" cy="947.6" rx="4" ry="5.7" transform="rotate(22 106.7 947.6)"/>
<ellipse cx="106.9" cy="947.7" rx="1.9" ry="2.9" transform="rotate(22 106.9 947.7)"/>
<path d="M95.4 969.4 L103.6 952.4"/>
<path d="M114.1 957.1 L130.6 966.1"/>
<path d="M116.9 951.9 L133.4 960.9"/>
<ellipse cx="115.5" cy="954.5" rx="1.5" ry="3" transform="rotate(28.6 115.5 954.5)"/>
<path d="M120.6 953.8 C120.6 953.9 120.8 954 120.9 954.1 C120.9 954.2 121 954.4 121 954.6 C121.1 954.7 121.1 954.9 121.1 955.1 C121.1 955.3 121 955.6 121 955.8 C120.9 956 120.9 956.3 120.8 956.5 C120.7 956.7 120.6 957 120.4 957.2 C120.3 957.4 120.2 957.7 120 957.9 C119.9 958.1 119.7 958.3 119.6 958.4 C119.4 958.6 119.2 958.7 119 958.9 C118.9 959 118.7 959.1 118.5 959.1 C118.4 959.2 118.2 959.2 118.1 959.2 C117.9 959.2 117.8 959.1 117.7 959.1"/>
<path d="M123.9 955.6 C123.9 955.7 124.1 955.8 124.2 955.9 C124.2 956 124.3 956.2 124.3 956.4 C124.4 956.5 124.4 956.7 124.4 956.9 C124.4 957.1 124.3 957.4 124.3 957.6 C124.2 957.8 124.2 958.1 124.1 958.3 C124 958.5 123.9 958.8 123.7 959 C123.6 959.2 123.5 959.5 123.3 959.7 C123.2 959.9 123 960.1 122.9 960.2 C122.7 960.4 122.5 960.5 122.3 960.7 C122.2 960.8 122 960.9 121.8 960.9 C121.7 961 121.5 961 121.4 961 C121.2 961 121.1 960.9 121 960.9"/>
<path d="M126.8 957.3 C126.9 957.3 127.1 957.4 127.1 957.5 C127.2 957.7 127.3 957.8 127.3 958 C127.3 958.1 127.4 958.3 127.3 958.5 C127.3 958.8 127.3 959 127.3 959.2 C127.2 959.4 127.1 959.7 127 959.9 C127 960.1 126.8 960.4 126.7 960.6 C126.6 960.8 126.4 961.1 126.3 961.3 C126.2 961.5 126 961.7 125.8 961.8 C125.7 962 125.5 962.2 125.3 962.3 C125.1 962.4 125 962.5 124.8 962.5 C124.7 962.6 124.5 962.6 124.4 962.6 C124.2 962.6 124 962.5 124 962.5"/>
<path d="M137.6 970.1 L133.3 971.2 L131.9 967 L134.9 961.5 L139.2 960.4 L140.5 964.6 Z"/>
<path d="M130.8 969.9 L129.5 965.6 L132.4 960.2 L136.7 959"/>
<path d="M130.8 969.9 L133.3 971.2"/>
<path d="M129.5 965.6 L131.9 967"/>
<path d="M132.4 960.2 L134.9 961.5"/>
<path d="M136.7 959 L139.2 960.4"/>
<path d="M118.6 981.7 L123 962.6"/>
<path d="M81 991.5 L83.7 991.5"/>
<path d="M108 1007.5 L109 1007.5"/>
<path d="M204.4 865.2 L222.8 850.8 L236.6 859 L238.2 879.5 L221.2 890.5 L206.2 881.6 Z"/>
<path d="M204.4 865.2 L220.4 869.3 L236.6 859"/>
<path d="M220.4 869.3 L221.2 890.5"/>
<ellipse cx="219.7" cy="859.8" rx="3.7" ry="2.8" transform="rotate(-25 219.7 859.8)"/>
<ellipse cx="229" cy="874.4" rx="4.5" ry="6" transform="rotate(20 229 874.4)"/>
<ellipse cx="229.3" cy="874.6" rx="3.2" ry="4.6" transform="rotate(20 229.3 874.6)"/>
<ellipse cx="210.9" cy="862.7" rx="0.7" ry="0.7"/>
<ellipse cx="221.9" cy="854.2" rx="0.7" ry="0.7"/>
<ellipse cx="229.4" cy="859.7" rx="0.7" ry="0.7"/>
<ellipse cx="216.4" cy="867.2" rx="0.7" ry="0.7"/>
<ellipse cx="209.9" cy="871.2" rx="0.7" ry="0.7"/>
<ellipse cx="212.4" cy="882.2" rx="0.7" ry="0.7"/>
<ellipse cx="222.9" cy="880.2" rx="0.7" ry="0.7"/>
<ellipse cx="223.9" cy="888.7" rx="0.7" ry="0.7"/>
<path d="M214.6 826.2 L217.7 856"/>
<ellipse cx="245.4" cy="883.6" rx="3.9" ry="5.5" transform="rotate(22 245.4 883.6)"/>
<path d="M242.3 843 L245 878.5"/>
<ellipse cx="259.3" cy="891.8" rx="4.2" ry="5.7" style="stroke-width:1.5" transform="rotate(22 259.3 891.8)"/>
<path d="M263.8 859 L260.8 886.7"/>
<ellipse cx="272.5" cy="899.6" rx="3.5" ry="5.1" style="stroke-width:1.5" transform="rotate(22 272.5 899.6)"/>
<path d="M287.4 873.8 L275.1 895.5"/>
<ellipse cx="284.4" cy="906.6" rx="2.9" ry="4.5" transform="rotate(22 284.4 906.6)"/>
<path d="M306.9 888.8 L287.4 903.7"/>
<ellipse cx="295" cy="912.4" rx="4.2" ry="6.1" style="stroke-width:1.6" transform="rotate(22 295 912.4)"/>
<path d="M329.5 894.3 L299.7 909.3"/>
<path d="M304.7 925.2 C304.4 925.2 303.6 925.3 303.2 925.2 C302.7 925.1 302.3 924.9 301.9 924.6 C301.6 924.2 301.3 923.8 301.1 923.3 C300.9 922.8 300.8 922.2 300.8 921.5 C300.7 920.9 300.8 920.2 301 919.6 C301.2 918.9 301.4 918.2 301.8 917.6 C302.1 917 302.5 916.3 303 915.8 C303.4 915.3 304 914.8 304.5 914.5 C305 914.2 305.6 913.9 306.1 913.8 C306.6 913.7 307.2 913.7 307.6 913.8 C308.1 913.9 308.5 914.1 308.9 914.4 C309.2 914.8 309.6 915.5 309.7 915.7"/>
<path d="M307 913.5 L314.4 917.2"/>
<path d="M302.8 924.7 L310.4 928.5"/>
<path d="M305.9 915 C306.4 914.5 308.1 914.5 308.9 914.9 C309.6 915.3 310.6 916.6 310.4 917.5 C310.2 918.4 308.6 919.9 307.9 920 C307.1 920.1 306.2 918.8 305.9 918 C305.6 917.2 305.4 915.5 305.9 915 Z"/>
<path d="M309.9 920 L313.9 917 L320.9 920.5 L321.4 925.5 L319.9 930.5 L313.9 930.8 L310.2 927.8 Z"/>
<path d="M311.4 921.5 L312.9 926 L311.9 928.5" style="stroke-width:2"/>
<path d="M315.4 920 L316.9 923.5" style="stroke-width:2"/>
<path d="M315.9 926.5 L318.9 928 L318.4 930" style="stroke-width:2.2"/>
<path d="M312.9 924 L320.4 927"/>
<path d="M318.9 921.5 L319.9 924.5" style="stroke-width:1.6"/>
<path d="M320.9 923.5 L323.9 925"/>
<path d="M319.9 930.5 L322.9 931"/>
<path d="M324.1 925.1 C324.2 925.1 324.5 925.1 324.7 925.2 C324.8 925.2 325 925.4 325.1 925.5 C325.2 925.7 325.3 925.9 325.4 926.1 C325.5 926.4 325.5 926.6 325.5 926.9 C325.5 927.2 325.4 927.5 325.4 927.8 C325.3 928.1 325.2 928.5 325 928.8 C324.9 929.1 324.7 929.4 324.5 929.6 C324.4 929.9 324.1 930.1 323.9 930.3 C323.7 930.5 323.5 930.6 323.3 930.7 C323 930.8 322.8 930.9 322.6 930.9 C322.4 930.9 322.2 930.9 322 930.8 C321.9 930.7 321.7 930.4 321.6 930.4"/>
<path d="M350 902.5 L313.1 916"/>
<path d="M232 884.7 L239.2 887.7 L239.2 903.1 L315.5 950.9"/>
<path d="M317.1 935.5 L314.9 948"/>
<path d="M319.7 935.5 L317.7 948"/>
<path d="M317.1 935.5 L319.7 935.5"/>
<ellipse cx="316.2" cy="949.8" rx="2.6" ry="1.8" transform="rotate(-20 316.2 949.8)"/>
<path d="M290.9 968.8 L315.1 951.3"/>
<ellipse cx="326.2" cy="954.1" rx="4.3" ry="6" transform="rotate(22 326.2 954.1)"/>
<ellipse cx="326.5" cy="954.2" rx="2.2" ry="3" transform="rotate(22 326.5 954.2)"/>
<path d="M314.1 977 L324.4 958.5"/>
<path d="M333 961.7 L350.2 971"/>
<path d="M335.6 956.9 L352.8 966.2"/>
<ellipse cx="334.3" cy="959.3" rx="1.4" ry="2.8" transform="rotate(28.4 334.3 959.3)"/>
<path d="M339.4 958.9 C339.4 959 339.6 959.1 339.7 959.2 C339.7 959.3 339.8 959.4 339.8 959.6 C339.9 959.7 339.9 959.9 339.9 960.1 C339.9 960.3 339.8 960.5 339.8 960.7 C339.7 960.9 339.7 961.1 339.6 961.4 C339.5 961.6 339.4 961.8 339.3 962 C339.2 962.2 339 962.4 338.9 962.6 C338.8 962.8 338.6 963 338.5 963.1 C338.3 963.3 338.2 963.4 338 963.5 C337.9 963.6 337.7 963.7 337.6 963.8 C337.4 963.8 337.3 963.9 337.1 963.9 C337 963.9 336.8 963.8 336.8 963.8"/>
<path d="M342.8 960.8 C342.9 960.8 343 960.9 343.1 961 C343.2 961.1 343.2 961.3 343.3 961.4 C343.3 961.6 343.3 961.8 343.3 962 C343.3 962.1 343.3 962.4 343.2 962.6 C343.2 962.8 343.1 963 343 963.2 C342.9 963.4 342.8 963.7 342.7 963.9 C342.6 964.1 342.5 964.3 342.4 964.5 C342.2 964.7 342.1 964.8 341.9 965 C341.8 965.1 341.6 965.3 341.5 965.4 C341.3 965.5 341.1 965.6 341 965.6 C340.8 965.7 340.7 965.7 340.6 965.7 C340.4 965.7 340.3 965.6 340.2 965.6"/>
<path d="M345.9 962.5 C346 962.5 346.1 962.6 346.2 962.7 C346.3 962.8 346.3 963 346.4 963.1 C346.4 963.3 346.4 963.4 346.4 963.6 C346.4 963.8 346.4 964 346.3 964.2 C346.3 964.4 346.2 964.7 346.1 964.9 C346 965.1 345.9 965.3 345.8 965.5 C345.7 965.7 345.6 966 345.4 966.1 C345.3 966.3 345.2 966.5 345 966.7 C344.9 966.8 344.7 966.9 344.6 967.1 C344.4 967.2 344.2 967.2 344.1 967.3 C343.9 967.4 343.8 967.4 343.7 967.4 C343.5 967.4 343.4 967.3 343.3 967.3"/>
<path d="M357.2 975.3 L352.8 976.6 L351.4 972.2 L354.4 966.5 L358.9 965.3 L360.3 969.7 Z"/>
<path d="M350.3 975.2 L348.9 970.8 L352 965.2 L356.4 964"/>
<path d="M350.3 975.2 L352.8 976.6"/>
<path d="M348.9 970.8 L351.4 972.2"/>
<path d="M352 965.2 L354.4 966.5"/>
<path d="M356.4 964 L358.9 965.3"/>
<path d="M338.3 987 L342.8 967.7"/>
<path d="M312 884.5 L313 884.5"/>
<path d="M326.5 884.5 L327.5 884.5"/>
<path d="M156.7 934 L170 920.7 L170.7 926.3 L230 907.3 L232 915.8 L173.3 934.7 L175 940.7 Z"/>
<path d="M510 107.2 L494.2 117.1"/>
<path d="M512.6 111.4 L496.8 121.3"/>
<ellipse cx="511.3" cy="109.3" rx="1.2" ry="2.5" transform="rotate(147.9 511.3 109.3)"/>
<path d="M509.2 113.6 C509.1 113.6 508.9 113.7 508.8 113.7 C508.7 113.7 508.6 113.7 508.4 113.6 C508.3 113.6 508.2 113.5 508 113.4 C507.9 113.4 507.7 113.2 507.6 113.1 C507.4 113 507.3 112.8 507.1 112.7 C507 112.5 506.9 112.3 506.8 112.1 C506.7 112 506.5 111.8 506.5 111.6 C506.4 111.4 506.3 111.2 506.2 111 C506.2 110.8 506.2 110.6 506.1 110.4 C506.1 110.3 506.1 110.1 506.1 110 C506.2 109.8 506.2 109.7 506.3 109.6 C506.3 109.5 506.5 109.4 506.5 109.4"/>
<path d="M506 115.6 C505.9 115.6 505.8 115.7 505.7 115.7 C505.6 115.7 505.4 115.7 505.3 115.6 C505.1 115.6 505 115.5 504.9 115.4 C504.7 115.3 504.6 115.2 504.4 115.1 C504.3 115 504.1 114.8 504 114.6 C503.9 114.5 503.7 114.3 503.6 114.1 C503.5 113.9 503.4 113.7 503.3 113.6 C503.2 113.4 503.1 113.2 503.1 113 C503 112.8 503 112.6 503 112.4 C503 112.3 503 112.1 503 112 C503 111.8 503 111.7 503.1 111.6 C503.2 111.5 503.3 111.4 503.3 111.3"/>
<path d="M503.1 117.4 C503.1 117.4 502.9 117.5 502.8 117.5 C502.7 117.5 502.6 117.4 502.4 117.4 C502.3 117.4 502.2 117.3 502 117.2 C501.9 117.1 501.7 117 501.6 116.9 C501.4 116.7 501.3 116.6 501.1 116.4 C501 116.3 500.9 116.1 500.8 115.9 C500.6 115.7 500.5 115.5 500.5 115.3 C500.4 115.1 500.3 114.9 500.2 114.8 C500.2 114.6 500.1 114.4 500.1 114.2 C500.1 114 500.1 113.9 500.1 113.7 C500.2 113.6 500.2 113.5 500.3 113.4 C500.3 113.3 500.5 113.2 500.5 113.1"/>
<path d="M487 120.8 L488.1 116.5 L492.5 117.4 L495.8 122.7 L494.7 127 L490.3 126.1 Z"/>
<path d="M490.5 115 L494.9 115.9 L498.2 121.2 L497.1 125.5"/>
<path d="M490.5 115 L488.1 116.5"/>
<path d="M494.9 115.9 L492.5 117.4"/>
<path d="M498.2 121.2 L495.8 122.7"/>
<path d="M497.1 125.5 L494.7 127"/>
<path d="M473.3 95.5 L502 111.5"/>
<ellipse cx="519" cy="105.8" rx="3.9" ry="5" transform="rotate(-25 519 105.8)"/>
<ellipse cx="519.2" cy="105.9" rx="2" ry="2.6" transform="rotate(-25 519.2 105.9)"/>
<path d="M497.3 79.1 L516.4 102.3"/>
<path d="M526.5 100.2 C526.9 99.7 527.8 97.8 529 97.2 C530.2 96.6 532.3 96.2 534 96.5 C535.7 96.8 537.5 97.6 539 98.7 C540.5 99.8 542.2 101.9 543 103.2 C543.8 104.5 543.4 106.1 543.5 106.7"/>
<path d="M526.5 100.2 C526.5 100.6 526 102 526.3 102.7 C526.5 103.4 527.7 104 528 104.2"/>
<path d="M528 104.2 C528.5 103.8 529.8 102 531 101.7 C532.2 101.4 533.8 101.6 535 102.2 C536.2 102.8 537.4 104.1 538 105.2 C538.6 106.3 538.4 108.1 538.5 108.7"/>
<path d="M538.5 108.7 C538.8 109 539.7 110.5 540.5 110.2 C541.3 109.9 543 107.3 543.5 106.7"/>
<path d="M528.5 101.2 C529.1 100.9 530.8 99.6 532 99.4 C533.2 99.2 534.8 99.6 536 100.2 C537.2 100.8 538.7 102.2 539.5 103.2 C540.3 104.2 540.6 105.7 540.8 106.2"/>
<ellipse cx="539.5" cy="106.7" rx="0.8" ry="1.2"/>
<ellipse cx="529.2" cy="101.8" rx="0.7" ry="1"/>
<path d="M519.5 64 L531.4 96.2"/>
<path d="M552.8 103.5 C553.3 102.2 554 101 555.3 100.5 C556.5 100 558.2 99.3 560.3 100.3 C562.4 101.3 566.2 104.7 567.8 106.5 C569.4 108.3 569.7 109.2 570.1 111 C570.4 112.8 570.4 115.7 569.9 117 C569.4 118.3 568.1 118.6 566.8 118.8 C565.4 119 563.9 119.4 561.8 118.3 C559.7 117.2 555.8 113.7 554.3 112 C552.8 110.3 552.8 109.4 552.5 108 C552.2 106.6 552.3 104.8 552.8 103.5 Z"/>
<path d="M555.3 100.5 C555.6 100.4 556.1 99.8 557.3 99.7 C558.5 99.6 560.2 98.8 562.3 99.9 C564.4 101 568.2 104.3 569.8 106.1 C571.4 107.9 571.4 108.8 571.7 110.5 C572 112.2 571.8 114.9 571.5 116 C571.2 117.1 570.2 116.8 569.9 117"/>
<ellipse cx="555.3" cy="104.5" rx="0.7" ry="0.7"/>
<ellipse cx="566.8" cy="108.5" rx="0.7" ry="0.7"/>
<ellipse cx="567.8" cy="115.5" rx="0.7" ry="0.7"/>
<ellipse cx="555.8" cy="110.5" rx="0.7" ry="0.7"/>
<path d="M570.8 112.6 L592.3 115.6"/>
<ellipse cx="547.8" cy="118.1" rx="3" ry="5" transform="rotate(-30 547.8 118.1)"/>
<path d="M550.3 121.8 L558.9 130.4"/>
<path d="M527 124.7 C527.5 124.1 528.7 122 530 121.2 C531.3 120.5 533.5 119.9 535 120.2 C536.5 120.5 537.9 122 539 123.2 C540.1 124.5 540.8 126.5 541.5 127.7 C542.2 128.9 543.2 130 543.5 130.5"/>
<path d="M527 124.7 C527.1 125.2 527 127 527.5 127.7 C528 128.4 529.6 128.5 530 128.7"/>
<path d="M530 128.7 C530.4 128.2 531.5 126 532.5 125.7 C533.5 125.5 535.2 126.4 536 127.2 C536.8 128 537.3 129.7 537.5 130.7 C537.7 131.7 537.1 132.8 537 133.2"/>
<path d="M537 133.2 C537.4 133.4 538.5 134.5 539.5 134.7 C540.5 134.9 542.3 134.9 543 134.2 C543.7 133.5 543.4 131.1 543.5 130.5"/>
<path d="M530.5 123.2 C531.2 123.1 533.3 122.3 534.5 122.7 C535.7 123.1 536.8 124.6 537.5 125.7 C538.2 126.8 538.8 128.6 539 129.2"/>
<ellipse cx="541.3" cy="132.2" rx="0.8" ry="1.2"/>
<path d="M527.5 127.7 L523 129.7"/>
<path d="M531.5 132.7 L526.8 134.9"/>
<path d="M531.5 132.7 L533 129.7"/>
<path d="M523 129.7 L486.7 147.4"/>
<path d="M526.8 134.9 L490.8 154.6"/>
<path d="M523 129.7 C523.5 130 525.2 130.9 525.8 131.8 C526.4 132.7 526.6 134.4 526.8 134.9"/>
<path d="M509.2 136.3 C509.7 136.7 511.4 137.7 512 138.6 C512.6 139.5 512.8 141.4 513 142"/>
<path d="M494 151.5 L496.4 148.3"/>
<path d="M497.3 149.8 L499.7 146.6"/>
<path d="M500.6 148 L503 144.8"/>
<path d="M503.9 146.2 L506.3 143.1"/>
<path d="M507.2 144.5 L509.6 141.3"/>
<path d="M473.3 126.3 L498 140.3"/>
<path d="M546.3 171.5 L560.5 174.4 L556.5 177.5 L576.7 204.4 L581.6 201.5 L580.3 217 L565.7 213.7 L568.6 210.7 L568.6 208.9 L549.3 183.5 L545.4 186.5 Z"/>
<path d="M686.3 253.7 L734.2 228.7 L771.9 194.5 L780 188.3"/>
<path d="M691.7 262.3 L736.9 238.1 L780 199"/>
<path d="M674.2 255 C674.8 253.4 676 252.3 677.2 252 C678.5 251.7 679.6 251.6 681.7 253 C683.8 254.4 688.1 258.6 689.7 260.5 C691.3 262.4 691.2 262.7 691.5 264.5 C691.8 266.3 691.9 270.1 691.3 271.5 C690.7 272.9 690.2 274.1 687.7 273 C685.2 271.9 678.5 266.9 676.2 265 C673.9 263.1 674.2 263.2 673.9 261.5 C673.6 259.8 673.7 256.6 674.2 255 Z"/>
<path d="M674.2 255 C674 255.2 673.2 255.2 672.9 256.5 C672.7 257.8 672.3 260.9 672.7 262.5 C673.1 264.1 672.9 264.1 675.2 266 C677.5 267.9 684.6 272.8 686.7 274 C688.8 275.2 687.5 273.2 687.7 273"/>
<ellipse cx="681.2" cy="262.7" rx="2.8" ry="3.4"/>
<ellipse cx="681.2" cy="262.7" rx="1.3" ry="1.7"/>
<ellipse cx="676.7" cy="257" rx="0.7" ry="0.7"/>
<ellipse cx="688.2" cy="263.5" rx="0.7" ry="0.7"/>
<ellipse cx="688.2" cy="269.5" rx="0.7" ry="0.7"/>
<ellipse cx="677.2" cy="262.5" rx="0.7" ry="0.7"/>
<path d="M628.6 261.3 L612.5 270.5"/>
<path d="M631 265.7 L614.9 274.9"/>
<ellipse cx="629.8" cy="263.5" rx="1.2" ry="2.5" transform="rotate(150.3 629.8 263.5)"/>
<path d="M627.5 267.7 C627.4 267.7 627.3 267.8 627.2 267.8 C627.1 267.8 626.9 267.8 626.8 267.7 C626.7 267.7 626.5 267.6 626.4 267.5 C626.2 267.4 626.1 267.3 625.9 267.1 C625.8 267 625.7 266.9 625.5 266.7 C625.4 266.5 625.3 266.3 625.2 266.1 C625.1 266 625 265.8 624.9 265.6 C624.8 265.4 624.7 265.2 624.7 265 C624.7 264.8 624.6 264.6 624.6 264.4 C624.6 264.3 624.6 264.1 624.6 264 C624.7 263.8 624.7 263.7 624.8 263.6 C624.8 263.5 625 263.4 625 263.4"/>
<path d="M624.3 269.5 C624.2 269.5 624.1 269.6 624 269.6 C623.8 269.6 623.7 269.6 623.6 269.6 C623.4 269.5 623.3 269.4 623.1 269.3 C623 269.2 622.9 269.1 622.7 269 C622.6 268.9 622.4 268.7 622.3 268.5 C622.2 268.4 622.1 268.2 622 268 C621.8 267.8 621.7 267.6 621.7 267.4 C621.6 267.2 621.5 267 621.5 266.8 C621.4 266.6 621.4 266.4 621.4 266.3 C621.4 266.1 621.4 265.9 621.4 265.8 C621.4 265.7 621.5 265.5 621.6 265.4 C621.6 265.3 621.8 265.2 621.8 265.2"/>
<path d="M621.4 271.2 C621.3 271.2 621.2 271.3 621.1 271.3 C620.9 271.3 620.8 271.3 620.7 271.2 C620.5 271.2 620.4 271.1 620.2 271 C620.1 270.9 620 270.8 619.8 270.6 C619.7 270.5 619.5 270.3 619.4 270.2 C619.3 270 619.2 269.8 619.1 269.6 C618.9 269.5 618.8 269.3 618.8 269.1 C618.7 268.9 618.6 268.7 618.6 268.5 C618.5 268.3 618.5 268.1 618.5 267.9 C618.5 267.8 618.5 267.6 618.5 267.5 C618.6 267.3 618.6 267.2 618.7 267.1 C618.7 267 618.9 266.9 618.9 266.8"/>
<path d="M605.2 274 L606.4 269.7 L610.8 270.8 L613.9 276.2 L612.6 280.5 L608.3 279.4 Z"/>
<path d="M608.9 268.3 L613.2 269.4 L616.3 274.8 L615 279.1"/>
<path d="M608.9 268.3 L606.4 269.7"/>
<path d="M613.2 269.4 L610.8 270.8"/>
<path d="M616.3 274.8 L613.9 276.2"/>
<path d="M615 279.1 L612.6 280.5"/>
<path d="M592 248.3 L619.8 265.5"/>
<ellipse cx="637.9" cy="259.1" rx="3.6" ry="5.4" transform="rotate(-25 637.9 259.1)"/>
<ellipse cx="638.1" cy="259.2" rx="1.9" ry="2.8" transform="rotate(-25 638.1 259.2)"/>
<path d="M616.3 232.7 L636 254.8"/>
<path d="M645.4 253.6 C645.8 253.1 646.6 251.2 647.9 250.6 C649.1 250 651.2 249.7 652.9 249.9 C654.6 250.2 656.4 251 657.9 252.1 C659.4 253.2 661.1 255.3 661.9 256.6 C662.6 257.9 662.3 259.5 662.4 260.1"/>
<path d="M645.4 253.6 C645.4 254 644.9 255.4 645.2 256.1 C645.4 256.8 646.6 257.4 646.9 257.6"/>
<path d="M646.9 257.6 C647.4 257.2 648.7 255.4 649.9 255.1 C651.1 254.8 652.7 255 653.9 255.6 C655.1 256.2 656.3 257.5 656.9 258.6 C657.5 259.7 657.3 261.5 657.4 262.1"/>
<path d="M657.4 262.1 C657.7 262.4 658.6 263.9 659.4 263.6 C660.2 263.3 661.9 260.7 662.4 260.1"/>
<path d="M647.4 254.6 C648 254.3 649.6 253 650.9 252.8 C652.1 252.6 653.6 253 654.9 253.6 C656.1 254.2 657.6 255.6 658.4 256.6 C659.2 257.6 659.5 259.1 659.7 259.6"/>
<ellipse cx="658.4" cy="260.1" rx="0.8" ry="1.2"/>
<ellipse cx="648.1" cy="255.2" rx="0.7" ry="1"/>
<path d="M640.5 216 L650.8 250.2"/>
<ellipse cx="666.4" cy="270.9" rx="3" ry="4.8" transform="rotate(-30 666.4 270.9)"/>
<path d="M669.6 275.2 L686.3 294"/>
<path d="M645.5 277.5 C646 276.9 647.2 274.8 648.5 274 C649.8 273.2 652 272.7 653.5 273 C655 273.3 656.4 274.8 657.5 276 C658.6 277.2 659.2 279.3 660 280.5 C660.8 281.7 661.7 282.8 662 283.3"/>
<path d="M645.5 277.5 C645.6 278 645.5 279.8 646 280.5 C646.5 281.2 648.1 281.3 648.5 281.5"/>
<path d="M648.5 281.5 C648.9 281 650 278.8 651 278.5 C652 278.2 653.7 279.2 654.5 280 C655.3 280.8 655.8 282.5 656 283.5 C656.2 284.5 655.6 285.6 655.5 286"/>
<path d="M655.5 286 C655.9 286.2 657 287.3 658 287.5 C659 287.7 660.8 287.7 661.5 287 C662.2 286.3 661.9 283.9 662 283.3"/>
<path d="M649 276 C649.7 275.9 651.8 275.1 653 275.5 C654.2 275.9 655.2 277.4 656 278.5 C656.8 279.6 657.2 281.4 657.5 282"/>
<ellipse cx="659.8" cy="285" rx="0.8" ry="1.2"/>
<path d="M646 280.5 L641.5 282.5"/>
<path d="M650 285.5 L645.3 287.7"/>
<path d="M650 285.5 L651.5 282.5"/>
<path d="M641.5 282.5 C641.9 282.8 643.4 283.6 644 284.5 C644.6 285.4 645.1 287.2 645.3 287.7"/>
<path d="M641.5 282.5 C635.2 285.6 611.6 296.2 603.7 301.4 C595.8 306.6 596.6 308.4 594.2 313.5 C591.8 318.6 590.1 327 589.4 332.3 C588.7 337.6 588.9 340.6 590 345.4 C591.1 350.1 592.6 355.9 595.9 360.8 C599.2 365.7 605.1 370.4 610 374.9 C614.9 379.4 621.3 383.2 625.4 387.7 C629.5 392.2 632.4 396.9 634.4 401.8 C636.4 406.7 637.2 412.1 637.4 417.2 C637.6 422.3 637.2 427.9 635.6 432.6 C634 437.3 631.7 441.1 627.9 445.4 C624.1 449.7 618.1 454.1 612.6 458.2 C607.1 462.2 600 466.1 594.6 469.7 C589.2 473.3 584.4 476.8 580.5 480 C576.6 483.2 574.1 486.9 571.5 489 C568.9 491.1 567.2 492.8 565.1 492.8 C563 492.8 559.8 489.6 558.7 489"/>
<path d="M645.3 287.7 C639.7 290.9 618.9 301.9 611.7 306.7 C604.5 311.4 604.5 311.9 602.3 316.2 C600.1 320.5 598.8 327.6 598.3 332.3 C597.8 337 598.1 339.8 599.2 344.1 C600.3 348.4 601.8 353.7 604.9 358.2 C608 362.7 613 366.9 617.7 371 C622.4 375.1 629.1 378.3 633.1 382.6 C637.1 386.9 640 391.4 642 396.7 C644 402 645.2 408.6 645.4 414.6 C645.6 420.6 644.9 427.1 643.3 432.6 C641.7 438.2 639.4 443.2 635.6 447.9 C631.8 452.6 625.8 456.5 620.3 460.8 C614.8 465.1 607.9 469.6 602.3 473.6 C596.7 477.7 591.2 481.9 586.9 485.1 C582.6 488.3 580.1 490.9 576.7 492.8 C573.3 494.7 569.6 496.5 566.4 496.7 C563.2 496.9 558.9 494.5 557.4 494.1"/>
<path d="M628.5 289 C629 289.4 630.8 290.5 631.5 291.5 C632.2 292.5 632.3 294.2 632.5 294.8"/>
<path d="M612 303 L614.4 299.8"/>
<path d="M615.3 301.2 L617.7 298"/>
<path d="M618.6 299.4 L621 296.2"/>
<path d="M621.9 297.6 L624.3 294.4"/>
<path d="M645.4 421 L694.1 439.7"/>
<path d="M580.5 480 C581.2 480.3 583.4 481.1 584.5 482 C585.6 482.9 586.5 484.6 586.9 485.1"/>
<path d="M590 473 C590.6 473.4 592.6 474.5 593.5 475.5 C594.4 476.5 595.2 478.4 595.5 479"/>
<path d="M597 474.5 L599.6 473.7"/>
<path d="M600.2 472.3 L602.8 471.5"/>
<path d="M603.4 470.1 L606 469.3"/>
<path d="M606.6 467.9 L609.2 467.1"/>
<path d="M550.3 481.6 C551.7 480.3 554.2 478.6 555.8 478.5 C557.4 478.4 558.8 479.7 559.7 481.1 C560.6 482.5 561.7 484.9 561.3 487.1 C560.9 489.3 558.7 492 557.4 494.2 C556.1 496.4 554.8 499.7 553.5 500.5 C552.2 501.3 550.7 500.2 549.5 498.9 C548.3 497.6 546.8 494.7 546.4 492.6 C546 490.5 546.6 488.1 547.2 486.3 C547.9 484.5 548.9 482.9 550.3 481.6 Z"/>
<path d="M552.7 484 C553.8 483.2 556.4 481.9 557.4 482.4 C558.4 482.9 559.3 485.3 559 487.1 C558.7 488.9 556.7 491.7 555.8 493.4 C554.9 495.1 554.3 497.3 553.5 497.3 C552.7 497.3 551.5 495.1 551.1 493.4 C550.7 491.7 550.8 488.7 551.1 487.1 C551.4 485.5 551.7 484.8 552.7 484 Z"/>
<path d="M549 483.5 C548.8 484.2 548.1 486.2 548 488 C547.9 489.8 548 492.2 548.5 494 C549 495.8 550.6 498.2 551 499"/>
<ellipse cx="555.5" cy="481.5" rx="0.8" ry="1"/>
<ellipse cx="552.5" cy="498" rx="0.8" ry="1"/>
<ellipse cx="554.5" cy="489.5" rx="1.2" ry="2.6" transform="rotate(15 554.5 489.5)"/>
<ellipse cx="540.8" cy="481.8" rx="3.4" ry="4.8" transform="rotate(25 540.8 481.8)"/>
<path d="M561.8 442.8 L543.3 477.4"/>
<path d="M538.2 480 L520.8 470.5 L528 530"/>
<path d="M471.3 551 L485.3 543 L490.3 541.5 L494.8 544 L494.8 549 L480.8 559 L475.8 561 L471.3 558 Z"/>
<path d="M471.3 551 L476.3 554 L480.8 552"/>
<path d="M476.3 554 L475.8 561"/>
<path d="M480.8 552 C481.1 551.3 481.4 549 482.3 548 C483.2 547 485.1 546.2 486.3 546 C487.6 545.8 489.2 546.8 489.8 547"/>
<path d="M489.8 547 L494.8 544"/>
<path d="M482.3 553 C482.6 552.5 483 550.8 483.8 550 C484.6 549.2 486.2 548.5 487.3 548.5 C488.4 548.5 489.8 549.8 490.3 550"/>
<ellipse cx="478.3" cy="556" rx="0.8" ry="1.1"/>
<ellipse cx="492.8" cy="547" rx="0.8" ry="1.1"/>
<path d="M495.7 491.7 L490.8 542.6"/>
<path d="M460 531.3 L482.6 543.6"/>
<path d="M505.1 551.8 L518.5 544.6 L521.5 547.7 L522.6 560 L513.3 569.2 L506.2 564.1 Z"/>
<path d="M505.1 551.8 L509 555.5 L521.5 547.7"/>
<path d="M509 555.5 L513.3 569.2"/>
<path d="M513.5 553.5 L518.5 550.5 L519.5 558.5 L514.8 561.5 Z"/>
<ellipse cx="512" cy="553.5" rx="0.8" ry="1"/>
<ellipse cx="519.8" cy="549.5" rx="0.8" ry="1"/>
<ellipse cx="513.3" cy="563.5" rx="0.8" ry="1"/>
<ellipse cx="520.8" cy="559.8" rx="0.8" ry="1"/>
<path d="M494.9 550.4 L505.1 555.3"/>
<path d="M521.5 560 L530.8 563.1 L526 520"/>
<path d="M519.5 564.1 L537 573.3"/>
<path d="M507.6 566.2 L512.3 634.9 L521.1 720 L525.5 771.3"/>
<path d="M517.4 569.2 L522.6 628.7"/>
<path d="M523.2 637.3 L530.8 720 L535 768.2"/>
<path d="M491.8 599 L510.3 603.7"/>
<path d="M523.2 581.5 L537.2 573.5 L542.2 572 L546.7 574.5 L546.7 579.5 L532.7 589.5 L527.7 591.5 L523.2 588.5 Z"/>
<path d="M523.2 581.5 L528.2 584.5 L532.7 582.5"/>
<path d="M528.2 584.5 L527.7 591.5"/>
<path d="M532.7 582.5 C533 581.8 533.3 579.5 534.2 578.5 C535.1 577.5 537 576.7 538.2 576.5 C539.5 576.3 541.1 577.3 541.7 577.5"/>
<path d="M541.7 577.5 L546.7 574.5"/>
<path d="M534.2 583.5 C534.5 583 534.9 581.2 535.7 580.5 C536.5 579.8 538.1 579 539.2 579 C540.3 579 541.7 580.2 542.2 580.5"/>
<ellipse cx="530.2" cy="586.5" rx="0.8" ry="1.1"/>
<ellipse cx="544.7" cy="577.5" rx="0.8" ry="1.1"/>
<path d="M554.8 528.2 L543.7 572.3"/>
<ellipse cx="552.7" cy="584" rx="4" ry="5.1" transform="rotate(-25 552.7 584)"/>
<ellipse cx="552.9" cy="584.1" rx="2.1" ry="2.7" transform="rotate(-25 552.9 584.1)"/>
<path d="M579 545.6 L556 579.5"/>
<path d="M558.8 591.2 L591.1 608.7"/>
<path d="M561.4 586.2 L593.7 603.7"/>
<ellipse cx="560.1" cy="588.7" rx="1.4" ry="2.8" transform="rotate(28.4 560.1 588.7)"/>
<path d="M568.5 590.1 C568.6 590.1 568.7 590.2 568.8 590.3 C568.9 590.5 568.9 590.6 569 590.8 C569 590.9 569 591.1 569 591.3 C569 591.5 569 591.7 568.9 591.9 C568.9 592.1 568.8 592.3 568.7 592.6 C568.7 592.8 568.6 593 568.4 593.2 C568.3 593.4 568.2 593.6 568 593.8 C567.9 594 567.8 594.2 567.6 594.4 C567.5 594.5 567.3 594.7 567.1 594.8 C567 594.9 566.8 595 566.7 595 C566.5 595.1 566.4 595.1 566.2 595.1 C566.1 595.1 565.9 595 565.9 595"/>
<path d="M575 593.6 C575 593.6 575.2 593.7 575.3 593.8 C575.3 594 575.4 594.1 575.4 594.3 C575.5 594.4 575.5 594.6 575.5 594.8 C575.5 595 575.4 595.2 575.4 595.4 C575.4 595.6 575.3 595.8 575.2 596.1 C575.1 596.3 575 596.5 574.9 596.7 C574.8 596.9 574.6 597.1 574.5 597.3 C574.4 597.5 574.2 597.7 574.1 597.9 C573.9 598 573.7 598.2 573.6 598.3 C573.4 598.4 573.3 598.5 573.1 598.5 C573 598.6 572.8 598.6 572.7 598.6 C572.6 598.6 572.4 598.5 572.3 598.5"/>
<path d="M580.8 596.7 C580.9 596.8 581 596.9 581.1 597 C581.2 597.1 581.2 597.2 581.3 597.4 C581.3 597.6 581.3 597.7 581.3 597.9 C581.3 598.1 581.3 598.3 581.2 598.5 C581.2 598.8 581.1 599 581 599.2 C580.9 599.4 580.8 599.7 580.7 599.9 C580.6 600.1 580.5 600.3 580.3 600.5 C580.2 600.7 580 600.9 579.9 601 C579.7 601.2 579.6 601.3 579.4 601.4 C579.3 601.5 579.1 601.6 578.9 601.7 C578.8 601.7 578.6 601.8 578.5 601.8 C578.4 601.8 578.2 601.7 578.1 601.7"/>
<path d="M598 612.8 L593.7 613.9 L592.3 609.7 L595.3 604.2 L599.6 603 L600.9 607.3 Z"/>
<path d="M591.2 612.6 L589.9 608.3 L592.8 602.9 L597.1 601.7"/>
<path d="M591.2 612.6 L593.7 613.9"/>
<path d="M589.9 608.3 L592.3 609.7"/>
<path d="M592.8 602.9 L595.3 604.2"/>
<path d="M597.1 601.7 L599.6 603"/>
<path d="M609.7 563.1 L582.7 596.9"/>
<path d="M480.5 655 L494.5 647 L499.5 645.5 L504 648 L504 653 L490 663 L485 665 L480.5 662 Z"/>
<path d="M480.5 655 L485.5 658 L490 656"/>
<path d="M485.5 658 L485 665"/>
<path d="M490 656 C490.2 655.3 490.6 653 491.5 652 C492.4 651 494.2 650.2 495.5 650 C496.8 649.8 498.4 650.8 499 651"/>
<path d="M499 651 L504 648"/>
<path d="M491.5 657 C491.8 656.5 492.2 654.8 493 654 C493.8 653.2 495.4 652.5 496.5 652.5 C497.6 652.5 499 653.8 499.5 654"/>
<ellipse cx="487.5" cy="660" rx="0.8" ry="1.1"/>
<ellipse cx="502" cy="651" rx="0.8" ry="1.1"/>
<path d="M460 627.7 L490.8 645.5"/>
<path d="M477.4 685.7 L484.2 663.6"/>
<path d="M503.1 653.3 L514.4 659.5"/>
<path d="M525.6 666.7 L544.1 675.5"/>
<path d="M532 684.5 L546 676.5 L551 675 L555.5 677.5 L555.5 682.5 L541.5 692.5 L536.5 694.5 L532 691.5 Z"/>
<path d="M532 684.5 L537 687.5 L541.5 685.5"/>
<path d="M537 687.5 L536.5 694.5"/>
<path d="M541.5 685.5 C541.8 684.8 542.1 682.5 543 681.5 C543.9 680.5 545.8 679.7 547 679.5 C548.2 679.3 549.9 680.3 550.5 680.5"/>
<path d="M550.5 680.5 L555.5 677.5"/>
<path d="M543 686.5 C543.2 686 543.7 684.2 544.5 683.5 C545.3 682.8 546.9 682 548 682 C549.1 682 550.5 683.2 551 683.5"/>
<ellipse cx="539" cy="689.5" rx="0.8" ry="1.1"/>
<ellipse cx="553.5" cy="680.5" rx="0.8" ry="1.1"/>
<path d="M543.1 640.6 L545.1 676.9"/>
<path d="M563.6 655.4 L552.3 676.3"/>
<ellipse cx="560.1" cy="686.2" rx="3.7" ry="5" transform="rotate(-25 560.1 686.2)"/>
<ellipse cx="560.3" cy="686.3" rx="1.9" ry="2.6" transform="rotate(-25 560.3 686.3)"/>
<path d="M583.5 670.8 L562.6 683.1"/>
<path d="M566.3 692.7 L599.2 711.2"/>
<path d="M569.1 687.9 L602 706.4"/>
<ellipse cx="567.7" cy="690.3" rx="1.4" ry="2.8" transform="rotate(29.3 567.7 690.3)"/>
<path d="M576.3 691.9 C576.4 692 576.5 692.1 576.6 692.2 C576.7 692.3 576.7 692.4 576.7 692.6 C576.8 692.8 576.8 692.9 576.8 693.1 C576.8 693.3 576.7 693.5 576.7 693.7 C576.6 694 576.6 694.2 576.5 694.4 C576.4 694.6 576.3 694.8 576.2 695.1 C576 695.3 575.9 695.5 575.8 695.7 C575.6 695.9 575.5 696 575.3 696.2 C575.2 696.3 575 696.5 574.8 696.6 C574.7 696.7 574.5 696.8 574.4 696.8 C574.2 696.9 574.1 696.9 573.9 696.9 C573.8 696.9 573.6 696.8 573.6 696.8"/>
<path d="M582.9 695.6 C582.9 695.7 583.1 695.8 583.2 695.9 C583.2 696 583.3 696.1 583.3 696.3 C583.3 696.5 583.4 696.6 583.4 696.8 C583.3 697 583.3 697.2 583.3 697.4 C583.2 697.7 583.1 697.9 583.1 698.1 C583 698.3 582.9 698.5 582.7 698.8 C582.6 699 582.5 699.2 582.3 699.4 C582.2 699.6 582 699.7 581.9 699.9 C581.7 700 581.6 700.2 581.4 700.3 C581.3 700.4 581.1 700.5 580.9 700.5 C580.8 700.6 580.6 700.6 580.5 700.6 C580.4 700.6 580.2 700.5 580.1 700.5"/>
<path d="M588.8 699 C588.9 699 589 699.1 589.1 699.2 C589.2 699.3 589.2 699.5 589.2 699.6 C589.3 699.8 589.3 700 589.3 700.2 C589.3 700.4 589.2 700.6 589.2 700.8 C589.1 701 589.1 701.2 589 701.4 C588.9 701.6 588.8 701.9 588.7 702.1 C588.5 702.3 588.4 702.5 588.3 702.7 C588.1 702.9 588 703.1 587.8 703.2 C587.7 703.4 587.5 703.5 587.3 703.6 C587.2 703.7 587 703.8 586.9 703.9 C586.7 703.9 586.6 703.9 586.4 703.9 C586.3 703.9 586.1 703.9 586.1 703.8"/>
<path d="M606.1 715.4 L601.8 716.6 L600.5 712.3 L603.5 706.9 L607.8 705.8 L609.1 710 Z"/>
<path d="M599.3 715.2 L598 710.9 L601.1 705.5 L605.4 704.4"/>
<path d="M599.3 715.2 L601.8 716.6"/>
<path d="M598 710.9 L600.5 712.3"/>
<path d="M601.1 705.5 L603.5 706.9"/>
<path d="M605.4 704.4 L607.8 705.8"/>
<path d="M606.1 684.1 L583.1 695.4"/>
<path d="M670.2 674.5 L536.4 767.2"/>
<path d="M660.9 622.4 L664.4 620.4 L670 620.4 L672.8 622.4 L672.8 627.9 L669.3 629.9 L663.7 629.9 L660.9 627.9 Z"/>
<path d="M665.5 622.9 L665.5 629.9"/>
<path d="M660.9 622.4 C661.7 622.6 663.5 623.4 665.5 623.4 C667.4 623.4 671.6 622.6 672.8 622.4"/>
<path d="M663 629.9 L663.6 655"/>
<path d="M670 629.9 L670.6 655"/>
<ellipse cx="667.1" cy="655" rx="3.5" ry="1.5"/>
<path d="M670.6 652 C670.6 652.1 670.6 652.3 670.5 652.4 C670.4 652.5 670.3 652.6 670.1 652.8 C670 652.9 669.8 653 669.6 653.1 C669.4 653.2 669.1 653.2 668.9 653.3 C668.6 653.4 668.3 653.4 668 653.4 C667.7 653.5 667.4 653.5 667.1 653.5 C666.8 653.5 666.5 653.5 666.2 653.4 C665.9 653.4 665.6 653.4 665.4 653.3 C665.1 653.2 664.8 653.2 664.6 653.1 C664.4 653 664.2 652.9 664.1 652.8 C663.9 652.6 663.8 652.5 663.7 652.4 C663.6 652.3 663.6 652.1 663.6 652"/>
<path d="M670.6 649 C670.6 649.1 670.6 649.3 670.5 649.4 C670.4 649.5 670.3 649.6 670.1 649.8 C670 649.9 669.8 650 669.6 650.1 C669.4 650.2 669.1 650.2 668.9 650.3 C668.6 650.4 668.3 650.4 668 650.4 C667.7 650.5 667.4 650.5 667.1 650.5 C666.8 650.5 666.5 650.5 666.2 650.4 C665.9 650.4 665.6 650.4 665.4 650.3 C665.1 650.2 664.8 650.2 664.6 650.1 C664.4 650 664.2 649.9 664.1 649.8 C663.9 649.6 663.8 649.5 663.7 649.4 C663.6 649.3 663.6 649.1 663.6 649"/>
<path d="M670.6 646 C670.6 646.1 670.6 646.3 670.5 646.4 C670.4 646.5 670.3 646.6 670.1 646.8 C670 646.9 669.8 647 669.6 647.1 C669.4 647.2 669.1 647.2 668.9 647.3 C668.6 647.4 668.3 647.4 668 647.4 C667.7 647.5 667.4 647.5 667.1 647.5 C666.8 647.5 666.5 647.5 666.2 647.4 C665.9 647.4 665.6 647.4 665.4 647.3 C665.1 647.2 664.8 647.2 664.6 647.1 C664.4 647 664.2 646.9 664.1 646.8 C663.9 646.6 663.8 646.5 663.7 646.4 C663.6 646.3 663.6 646.1 663.6 646"/>
<path d="M693.2 631.1 L671.5 640.3"/>
<ellipse cx="669.4" cy="665.9" rx="5.6" ry="3.6"/>
<ellipse cx="669.6" cy="666" rx="2.9" ry="1.9"/>
<path d="M696.5 664.8 L676 665.9"/>
<path d="M411.4 703.6 L476.7 739.7 L498.5 725.7 L522 739"/>
<path d="M533.5 745.5 L545.6 752.4"/>
<path d="M518.6 774.4 L525.5 770.3 L541.5 769.2 L542.6 774.4 L528.8 783.6 L519 779.5 Z"/>
<path d="M518.6 774.4 L528.5 778.5 L542.6 774.4"/>
<path d="M528.5 778.5 L528.8 783.6"/>
<ellipse cx="522.5" cy="775.5" rx="0.9" ry="1.1"/>
<ellipse cx="538" cy="771.5" rx="0.9" ry="1.1"/>
<ellipse cx="528.5" cy="776" rx="0.9" ry="1.1"/>
<path d="M556.9 759 L607.5 788.7"/>
<path d="M617.5 794.5 L646 810.6"/>
<ellipse cx="532.3" cy="794.9" rx="3.7" ry="2.5" transform="rotate(-8 532.3 794.9)"/>
<path d="M488.2 799 L528.8 795.5"/>
<path d="M520 818.5 L536.4 803.1 L547.7 808.2 L551.8 828.7 L535.4 840 L522 833.8 Z"/>
<path d="M520 818.5 L531.3 820.5 L547.7 808.2"/>
<path d="M531.3 820.5 L535.4 840"/>
<ellipse cx="533.5" cy="811" rx="3.4" ry="2.5" transform="rotate(-20 533.5 811)"/>
<ellipse cx="526" cy="816" rx="0.7" ry="0.7"/>
<ellipse cx="536" cy="806.5" rx="0.7" ry="0.7"/>
<ellipse cx="542.5" cy="810" rx="0.7" ry="0.7"/>
<ellipse cx="529" cy="823" rx="0.7" ry="0.7"/>
<ellipse cx="524.5" cy="830" rx="0.7" ry="0.7"/>
<ellipse cx="542.5" cy="824.5" rx="3.6" ry="5" transform="rotate(15 542.5 824.5)"/>
<ellipse cx="542.8" cy="824.7" rx="2.2" ry="3.4" transform="rotate(15 542.8 824.7)"/>
<path d="M535.5 827.5 L548.5 820.5" style="stroke-width:1.5"/>
<path d="M538 832 L541.5 836.5" style="stroke-width:1.5"/>
<path d="M545 815.5 L547.5 819.5" style="stroke-width:1.5"/>
<path d="M537.5 822.5 L537.5 834"/>
<path d="M540 829.5 L546 826.5"/>
<path d="M488.2 831.8 L520 823.6"/>
<path d="M551.8 816.4 L593.8 787.7 L598.6 822.6 L611.3 817.4"/>
<path d="M608.2 790.8 L615.4 785.2 L617 787.7 L617.4 818.5 L614.4 820.5 L609.6 816.4 Z"/>
<path d="M608.2 790.8 L610.5 792.8 L617 787.7"/>
<path d="M610.5 792.8 L611.5 817.8"/>
<path d="M613.5 797 L615.5 795.5 L616 806 L614 807.5 Z"/>
<path d="M617.2 806 L619.5 804.5 L619.8 817 L617.4 818.5"/>
<ellipse cx="612.3" cy="790" rx="1" ry="1.3"/>
<ellipse cx="613.3" cy="812" rx="0.9" ry="1.3"/>
<path d="M617 818.5 L628.7 831.8"/>
<path d="M631.8 799 L646 790.2"/>
<path d="M619.5 809.5 L626.8 804.2"/>
<path d="M633.2 750.1 L647.2 783.8"/>
<ellipse cx="649" cy="788.4" rx="2.9" ry="4.6" transform="rotate(-25 649 788.4)"/>
<ellipse cx="649.2" cy="788.5" rx="1.5" ry="2.4" transform="rotate(-25 649.2 788.5)"/>
<path d="M666.9 723 L663.3 767.2"/>
<path d="M657.8 784.5 L671.8 776.2"/>
<path d="M655.2 780.1 L669.2 771.8"/>
<ellipse cx="656.5" cy="782.3" rx="1.3" ry="2.6" transform="rotate(-30.7 656.5 782.3)"/>
<path d="M658.3 778.2 C658.3 778.2 658.5 778.1 658.6 778.1 C658.7 778.1 658.9 778.2 659 778.2 C659.1 778.3 659.3 778.3 659.4 778.4 C659.6 778.5 659.7 778.6 659.9 778.8 C660 778.9 660.2 779.1 660.3 779.3 C660.5 779.4 660.6 779.6 660.7 779.8 C660.8 780 660.9 780.2 661 780.4 C661.1 780.6 661.2 780.8 661.2 781 C661.3 781.2 661.3 781.4 661.3 781.6 C661.3 781.8 661.3 781.9 661.3 782.1 C661.3 782.2 661.2 782.4 661.2 782.5 C661.1 782.6 660.9 782.7 660.9 782.7"/>
<path d="M661.1 776.6 C661.1 776.6 661.3 776.5 661.4 776.5 C661.5 776.5 661.7 776.5 661.8 776.5 C661.9 776.6 662.1 776.7 662.2 776.8 C662.4 776.9 662.5 777 662.7 777.1 C662.8 777.3 663 777.4 663.1 777.6 C663.3 777.8 663.4 778 663.5 778.2 C663.6 778.3 663.7 778.6 663.8 778.8 C663.9 779 664 779.2 664 779.4 C664.1 779.6 664.1 779.7 664.1 779.9 C664.1 780.1 664.1 780.3 664.1 780.4 C664.1 780.6 664 780.7 664 780.8 C663.9 780.9 663.7 781 663.7 781.1"/>
<path d="M663.6 775.1 C663.6 775.1 663.8 775 663.9 775 C664 775 664.2 775 664.3 775.1 C664.5 775.1 664.6 775.2 664.8 775.3 C664.9 775.4 665.1 775.5 665.2 775.6 C665.4 775.8 665.5 775.9 665.6 776.1 C665.8 776.3 665.9 776.5 666 776.7 C666.1 776.8 666.2 777.1 666.3 777.3 C666.4 777.5 666.5 777.7 666.5 777.9 C666.6 778.1 666.6 778.3 666.6 778.4 C666.6 778.6 666.6 778.8 666.6 778.9 C666.6 779.1 666.5 779.2 666.5 779.3 C666.4 779.4 666.3 779.5 666.2 779.6"/>
<path d="M678.8 772.6 L677.6 776.8 L673.4 775.8 L670.3 770.6 L671.5 766.4 L675.7 767.4 Z"/>
<path d="M675.2 778.2 L671 777.2 L667.9 772 L669.1 767.9"/>
<path d="M675.2 778.2 L677.6 776.8"/>
<path d="M671 777.2 L673.4 775.8"/>
<path d="M667.9 772 L670.3 770.6"/>
<path d="M669.1 767.9 L671.5 766.4"/>
<ellipse cx="649.8" cy="812.4" rx="3.8" ry="5.6" transform="rotate(25 649.8 812.4)"/>
<ellipse cx="650" cy="812.5" rx="2" ry="2.9" transform="rotate(25 650 812.5)"/>
<path d="M687.3 782.5 L653.1 808"/>
<path d="M655.8 819.5 L671.6 827.9"/>
<path d="M658.2 814.9 L674 823.3"/>
<ellipse cx="657" cy="817.2" rx="1.3" ry="2.6" transform="rotate(28 657 817.2)"/>
<path d="M661.7 816.8 C661.7 816.8 661.9 816.9 662 817 C662 817.1 662.1 817.2 662.1 817.4 C662.1 817.5 662.2 817.7 662.2 817.9 C662.1 818 662.1 818.2 662.1 818.4 C662 818.6 662 818.8 661.9 819 C661.8 819.2 661.7 819.5 661.6 819.7 C661.5 819.9 661.4 820.1 661.3 820.2 C661.1 820.4 661 820.6 660.9 820.7 C660.7 820.9 660.6 821 660.4 821.1 C660.3 821.2 660.1 821.3 660 821.3 C659.9 821.4 659.7 821.4 659.6 821.4 C659.5 821.4 659.3 821.4 659.3 821.3"/>
<path d="M664.9 818.4 C664.9 818.5 665 818.6 665.1 818.7 C665.2 818.8 665.2 818.9 665.3 819 C665.3 819.2 665.3 819.4 665.3 819.5 C665.3 819.7 665.3 819.9 665.2 820.1 C665.2 820.3 665.1 820.5 665.1 820.7 C665 820.9 664.9 821.1 664.8 821.3 C664.7 821.5 664.6 821.7 664.4 821.9 C664.3 822.1 664.2 822.3 664 822.4 C663.9 822.5 663.7 822.7 663.6 822.8 C663.4 822.9 663.3 823 663.2 823 C663 823.1 662.9 823.1 662.8 823.1 C662.6 823.1 662.5 823 662.4 823"/>
<path d="M667.7 819.9 C667.7 820 667.9 820.1 668 820.2 C668 820.3 668.1 820.4 668.1 820.6 C668.1 820.7 668.2 820.9 668.2 821 C668.2 821.2 668.1 821.4 668.1 821.6 C668 821.8 668 822 667.9 822.2 C667.8 822.4 667.7 822.7 667.6 822.9 C667.5 823 667.4 823.2 667.3 823.4 C667.1 823.6 667 823.8 666.9 823.9 C666.7 824.1 666.6 824.2 666.4 824.3 C666.3 824.4 666.1 824.5 666 824.5 C665.9 824.6 665.7 824.6 665.6 824.6 C665.5 824.6 665.3 824.5 665.3 824.5"/>
<path d="M678.3 831.9 L674.1 833.1 L672.8 829 L675.6 823.7 L679.8 822.5 L681.1 826.6 Z"/>
<path d="M671.7 831.8 L670.3 827.7 L673.1 822.4 L677.3 821.2"/>
<path d="M671.7 831.8 L674.1 833.1"/>
<path d="M670.3 827.7 L672.8 829"/>
<path d="M673.1 822.4 L675.6 823.7"/>
<path d="M677.3 821.2 L679.8 822.5"/>
<path d="M714.9 797.8 L670.2 820"/>
<path d="M559 831.5 L575.6 825.3 L572.9 830.2 L584.1 836.5 L578.3 847.7 L568.4 842.8 L564.8 846.8 Z" style="fill:#000;stroke:#000"/>
<rect x="573.5" y="835" width="0.9" height="0.9" style="fill:#fff;stroke:none"/>
<rect x="572.4" y="837.2" width="0.9" height="0.9" style="fill:#fff;stroke:none"/>
<rect x="571.2" y="839.4" width="0.9" height="0.9" style="fill:#fff;stroke:none"/>
<rect x="570" y="841.6" width="0.9" height="0.9" style="fill:#fff;stroke:none"/>
<rect x="575.8" y="836.3" width="0.9" height="0.9" style="fill:#fff;stroke:none"/>
<rect x="574.6" y="838.5" width="0.9" height="0.9" style="fill:#fff;stroke:none"/>
<rect x="573.5" y="840.7" width="0.9" height="0.9" style="fill:#fff;stroke:none"/>
<rect x="572.3" y="842.9" width="0.9" height="0.9" style="fill:#fff;stroke:none"/>
<rect x="578.1" y="837.6" width="0.9" height="0.9" style="fill:#fff;stroke:none"/>
<rect x="577" y="839.8" width="0.9" height="0.9" style="fill:#fff;stroke:none"/>
<rect x="575.8" y="842" width="0.9" height="0.9" style="fill:#fff;stroke:none"/>
<rect x="574.6" y="844.2" width="0.9" height="0.9" style="fill:#fff;stroke:none"/>
<path d="M509.2 851 C509.4 850.2 509.6 847.8 510.7 846.5 C511.8 845.2 513.9 843.8 515.7 843 C517.5 842.2 519.8 841.9 521.7 842 C523.6 842.1 526.1 842.8 527.2 843.5 C528.3 844.2 528 845.6 528.2 846"/>
<path d="M509.2 851 C509.4 851.5 509.5 853.3 510.2 854 C510.9 854.7 512.7 854.8 513.2 855"/>
<path d="M513.2 855 C513.4 854.3 513.4 852.2 514.2 851 C515 849.8 516.8 848.6 518.2 848 C519.6 847.4 521.5 847.3 522.7 847.5 C524 847.7 525.2 848.8 525.7 849"/>
<path d="M525.7 849 C526.1 848.9 527.8 849 528.2 848.5 C528.6 848 528.2 846.4 528.2 846"/>
<path d="M511.7 850 C512.2 849.3 513.4 846.9 514.7 846 C516 845.1 518 844.7 519.7 844.5 C521.4 844.3 523.9 844.9 524.7 845"/>
<ellipse cx="511.7" cy="853" rx="0.8" ry="1.1"/>
<ellipse cx="526.5" cy="846.8" rx="0.8" ry="1.1"/>
<path d="M466.7 864 L510.8 853.3"/>
<ellipse cx="537.4" cy="849.2" rx="4.1" ry="2.7" transform="rotate(-8 537.4 849.2)"/>
<path d="M541.5 849.6 L598.6 871.4"/>
<ellipse cx="513.8" cy="862.6" rx="5.7" ry="3.3"/>
<ellipse cx="514" cy="862.7" rx="3" ry="1.7"/>
<path d="M470.7 888 L508.7 864.6"/>
<path d="M511.8 874 L511.8 888.5"/>
<path d="M518.2 874 L518.2 888.5"/>
<ellipse cx="515" cy="874" rx="3.2" ry="1.4"/>
<path d="M518.2 877 C518.2 877.1 518.2 877.2 518.1 877.4 C518 877.5 517.9 877.6 517.8 877.7 C517.6 877.8 517.5 877.9 517.3 878 C517.1 878.1 516.8 878.2 516.6 878.2 C516.4 878.3 516.1 878.3 515.8 878.4 C515.6 878.4 515.3 878.4 515 878.4 C514.7 878.4 514.4 878.4 514.2 878.4 C513.9 878.3 513.6 878.3 513.4 878.2 C513.2 878.2 512.9 878.1 512.7 878 C512.5 877.9 512.4 877.8 512.2 877.7 C512.1 877.6 512 877.5 511.9 877.4 C511.8 877.2 511.8 877.1 511.8 877"/>
<path d="M518.2 880 C518.2 880.1 518.2 880.2 518.1 880.4 C518 880.5 517.9 880.6 517.8 880.7 C517.6 880.8 517.5 880.9 517.3 881 C517.1 881.1 516.8 881.2 516.6 881.2 C516.4 881.3 516.1 881.3 515.8 881.4 C515.6 881.4 515.3 881.4 515 881.4 C514.7 881.4 514.4 881.4 514.2 881.4 C513.9 881.3 513.6 881.3 513.4 881.2 C513.2 881.2 512.9 881.1 512.7 881 C512.5 880.9 512.4 880.8 512.2 880.7 C512.1 880.6 512 880.5 511.9 880.4 C511.8 880.2 511.8 880.1 511.8 880"/>
<path d="M518.2 883 C518.2 883.1 518.2 883.2 518.1 883.4 C518 883.5 517.9 883.6 517.8 883.7 C517.6 883.8 517.5 883.9 517.3 884 C517.1 884.1 516.8 884.2 516.6 884.2 C516.4 884.3 516.1 884.3 515.8 884.4 C515.6 884.4 515.3 884.4 515 884.4 C514.7 884.4 514.4 884.4 514.2 884.4 C513.9 884.3 513.6 884.3 513.4 884.2 C513.2 884.2 512.9 884.1 512.7 884 C512.5 883.9 512.4 883.8 512.2 883.7 C512.1 883.6 512 883.5 511.9 883.4 C511.8 883.2 511.8 883.1 511.8 883"/>
<path d="M510.4 890 L512.5 888.2 L520.5 888.2 L522.7 890 L522.7 896.5 L520 898.7 L513 898.7 L510.4 896.5 Z"/>
<path d="M515 888.2 L515 898.7"/>
<path d="M475 918.3 L511.8 884.1"/>
<ellipse cx="540" cy="860" rx="8.6" ry="5.2" transform="rotate(-20 540 860)"/>
<ellipse cx="541" cy="859.5" rx="5.2" ry="3" transform="rotate(-20 541 859.5)"/>
<ellipse cx="541.3" cy="859.3" rx="2.6" ry="1.5" transform="rotate(-20 541.3 859.3)"/>
<path d="M547.7 861.9 C547.6 862.2 547.4 862.9 547.1 863.4 C546.9 863.9 546.5 864.4 546.1 864.9 C545.6 865.3 545.1 865.8 544.5 866.2 C544 866.6 543.3 867 542.7 867.3 C542 867.6 541.3 867.9 540.6 868.1 C539.9 868.3 539.1 868.5 538.4 868.6 C537.7 868.7 537 868.7 536.3 868.7 C535.7 868.7 535 868.6 534.5 868.4 C533.9 868.2 533.4 868 532.9 867.7 C532.5 867.5 532.1 867.1 531.9 866.7 C531.6 866.4 531.4 865.9 531.3 865.5 C531.2 865.1 531.3 864.3 531.3 864.1"/>
<path d="M531.5 866 C531.5 866.9 530.5 869.8 531.3 871.5 C532 873.2 534 875.8 536 876.5 C538 877.2 541.2 876.8 543 876 C544.8 875.2 545.9 873.1 546.5 871.5 C547.1 869.9 546.8 867.3 546.8 866.5"/>
<path d="M533 869.5 C533.8 870.1 535.9 872.9 538 873 C540.1 873.1 544.2 870.5 545.5 870"/>
<ellipse cx="548" cy="874.5" rx="2.6" ry="2.8"/>
<path d="M521 851.3 L533.7 857.8"/>
<path d="M539.8 905.6 L539.8 876.5"/>
<ellipse cx="561.6" cy="879" rx="7.6" ry="6.4" transform="rotate(-10 561.6 879)"/>
<ellipse cx="559.3" cy="878.6" rx="3.4" ry="3.4"/>
<path d="M563.2 875.1 C563.4 875.1 563.9 874.9 564.2 874.9 C564.5 874.9 564.9 874.9 565.2 875 C565.5 875.2 565.9 875.3 566.1 875.5 C566.4 875.7 566.7 876 566.9 876.3 C567.1 876.6 567.2 877 567.3 877.3 C567.4 877.6 567.5 878 567.5 878.4 C567.5 878.8 567.4 879.2 567.3 879.5 C567.2 879.8 567.1 880.2 566.9 880.5 C566.7 880.8 566.4 881.1 566.1 881.3 C565.9 881.5 565.5 881.6 565.2 881.8 C564.9 881.9 564.5 881.9 564.2 881.9 C563.9 881.9 563.4 881.7 563.2 881.7"/>
<path d="M566.2 919 L560.4 885.7"/>
<path d="M638.5 857.5 L639.5 857.5"/>
<path d="M274.9 225.5 L303.6 241.3"/>
<path d="M396.4 494.8 L482.6 543.6"/>
<path d="M400.5 592.5 L490.8 645.5"/>
<path d="M363 880.6 L380 889.2"/>
<path d="M360.5 924 L390.9 940.5"/>
<path d="M340 906.7 L348.6 903.6"/>
<path d="M525 930.5 L530 930.5"/>
<path d="M540.7 930.5 L544 930.5"/>
<path d="M600 687.3 L605.6 684.2"/>
</svg>
</body></html>
